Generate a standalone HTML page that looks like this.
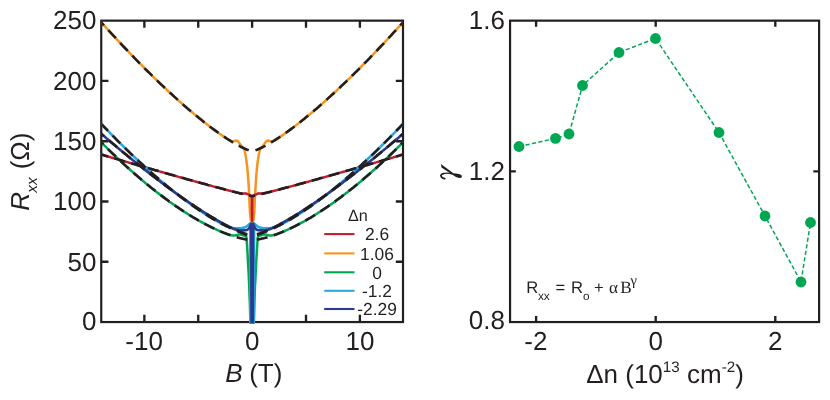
<!DOCTYPE html>
<html><head><meta charset="utf-8"><title>Rxx vs B</title>
<style>
html,body{margin:0;padding:0;background:#ffffff;}
body{width:830px;height:400px;overflow:hidden;font-family:"Liberation Sans",sans-serif;}
</style></head><body>
<svg width="830" height="400" viewBox="0 0 830 400" style="display:block;will-change:transform" text-rendering="geometricPrecision">
<rect x="0" y="0" width="830" height="400" fill="#ffffff"/>
<defs><clipPath id="cl"><rect x="101.25" y="20.65" width="301.75" height="302.90000000000003"/></clipPath></defs>
<rect x="101.25" y="20.65" width="301.75" height="301.40000000000003" fill="none" stroke="#231f20" stroke-width="2.2"/>
<path d="M144.36,20.65v7.2 M144.36,322.05v-7.2" stroke="#231f20" stroke-width="2.35" fill="none"/>
<path d="M198.24,20.65v7.2 M198.24,322.05v-7.2" stroke="#231f20" stroke-width="2.35" fill="none"/>
<path d="M252.12,20.65v7.2 M252.12,322.05v-7.2" stroke="#231f20" stroke-width="2.35" fill="none"/>
<path d="M306.01,20.65v7.2 M306.01,322.05v-7.2" stroke="#231f20" stroke-width="2.35" fill="none"/>
<path d="M359.89,20.65v7.2 M359.89,322.05v-7.2" stroke="#231f20" stroke-width="2.35" fill="none"/>
<path d="M101.25,261.77h7.2 M403.0,261.77h-7.2" stroke="#231f20" stroke-width="2.35" fill="none"/>
<path d="M101.25,201.49h7.2 M403.0,201.49h-7.2" stroke="#231f20" stroke-width="2.35" fill="none"/>
<path d="M101.25,141.21h7.2 M403.0,141.21h-7.2" stroke="#231f20" stroke-width="2.35" fill="none"/>
<path d="M101.25,80.93h7.2 M403.0,80.93h-7.2" stroke="#231f20" stroke-width="2.35" fill="none"/>
<g clip-path="url(#cl)" fill="none" stroke-linejoin="round" stroke-linecap="butt">
<path d="M101.2,22.3 L102.3,23.5 L103.4,24.7 L104.5,25.9 L105.6,27.1 L106.6,28.3 L107.7,29.5 L108.8,30.6 L109.9,31.8 L110.9,33.0 L112.0,34.2 L113.1,35.3 L114.2,36.5 L115.3,37.7 L116.3,38.8 L117.4,40.0 L118.5,41.1 L119.6,42.3 L120.6,43.4 L121.7,44.6 L122.8,45.7 L123.9,46.9 L125.0,48.0 L126.0,49.1 L127.1,50.3 L128.2,51.4 L129.3,52.5 L130.3,53.7 L131.4,54.8 L132.5,55.9 L133.6,57.0 L134.7,58.1 L135.7,59.2 L136.8,60.3 L137.9,61.4 L139.0,62.5 L140.0,63.6 L141.1,64.7 L142.2,65.8 L143.3,66.9 L144.4,68.0 L145.4,69.1 L146.5,70.1 L147.6,71.2 L148.7,72.3 L149.7,73.4 L150.8,74.4 L151.9,75.5 L153.0,76.5 L154.1,77.6 L155.1,78.6 L156.2,79.7 L157.3,80.7 L158.4,81.8 L159.4,82.8 L160.5,83.8 L161.6,84.9 L162.7,85.9 L163.8,86.9 L164.8,87.9 L165.9,88.9 L167.0,90.0 L168.1,91.0 L169.1,92.0 L170.2,93.0 L171.3,94.0 L172.4,94.9 L173.5,95.9 L174.5,96.9 L175.6,97.9 L176.7,98.9 L177.8,99.8 L178.8,100.8 L179.9,101.8 L181.0,102.7 L182.1,103.7 L183.2,104.6 L184.2,105.6 L185.3,106.5 L186.4,107.4 L187.5,108.4 L188.5,109.3 L189.6,110.2 L190.7,111.1 L191.8,112.0 L192.9,113.0 L193.9,113.9 L195.0,114.8 L196.1,115.6 L197.2,116.5 L198.2,117.4 L199.3,118.3 L200.4,119.2 L201.5,120.0 L202.6,120.9 L203.6,121.7 L204.7,122.6 L205.8,123.4 L206.9,124.3 L207.9,125.1 L209.0,125.9 L210.1,126.7 L211.2,127.6 L212.3,128.4 L213.3,129.2 L214.4,130.0 L215.5,130.7 L216.6,131.5 L217.6,132.3 L218.7,133.1 L219.8,133.8 L220.0,134.0 L220.2,134.1 L220.4,134.3 L220.7,134.4 L220.9,134.6 L221.1,134.7 L221.3,134.9 L221.5,135.0 L221.7,135.2 L221.9,135.3 L222.2,135.5 L222.4,135.6 L222.6,135.8 L222.8,135.9 L223.0,136.0 L223.2,136.2 L223.5,136.3 L223.7,136.5 L223.9,136.6 L224.1,136.8 L224.3,136.9 L224.5,137.1 L224.8,137.2 L225.0,137.3 L225.2,137.5 L225.4,137.6 L225.6,137.8 L225.8,137.9 L226.0,138.1 L226.3,138.2 L226.5,138.3 L226.7,138.5 L226.9,138.6 L227.1,138.8 L227.3,138.9 L227.6,139.0 L227.8,139.2 L228.0,139.3 L228.2,139.4 L228.4,139.6 L228.6,139.7 L228.8,139.8 L229.1,140.0 L229.3,140.1 L229.5,140.2 L229.7,140.4 L229.9,140.5 L230.1,140.6 L230.4,140.7 L230.6,140.8 L230.8,140.9 L231.0,141.0 L231.2,141.1 L231.4,141.2 L231.6,141.2 L231.9,141.3 L232.1,141.3 L232.3,141.4 L232.5,141.4 L232.7,141.4 L232.9,141.4 L233.2,141.4 L233.4,141.3 L233.6,141.3 L233.8,141.3 L234.0,141.2 L234.2,141.1 L234.5,141.1 L234.7,141.0 L234.9,140.9 L235.1,140.8 L235.3,140.8 L235.5,140.7 L235.7,140.7 L236.0,140.6 L236.2,140.6 L236.4,140.6 L236.6,140.7 L236.8,140.7 L237.0,140.8 L237.3,140.9 L237.5,141.0 L237.7,141.2 L237.9,141.4 L238.1,141.6 L238.3,141.8 L238.5,142.1 L238.8,142.3 L239.0,142.6 L239.2,142.9 L239.4,143.2 L239.6,143.5 L239.8,143.9 L240.1,144.2 L240.3,144.5 L240.5,144.8 L240.7,145.1 L240.9,145.4 L241.1,145.7 L241.3,145.9 L241.6,146.2 L241.8,146.4 L242.0,146.7 L242.2,146.9 L242.4,147.1 L242.6,147.3 L242.9,147.5 L243.1,147.7 L243.3,147.9 L243.5,148.1 L243.6,148.2 L243.7,148.4 L243.8,148.5 L243.9,148.7 L244.0,148.9 L244.2,149.1 L244.3,149.4 L244.4,149.7 L244.5,150.0 L244.6,150.4 L244.7,150.8 L244.8,151.3 L244.9,151.7 L245.0,152.2 L245.1,152.8 L245.2,153.3 L245.3,153.9 L245.4,154.5 L245.6,155.1 L245.7,155.7 L245.8,156.4 L245.9,157.0 L246.0,157.7 L246.1,158.5 L246.2,159.2 L246.3,160.0 L246.4,160.7 L246.5,161.5 L246.6,162.4 L246.7,163.2 L246.8,164.1 L247.0,165.0 L247.1,166.0 L247.2,166.9 L247.3,167.9 L247.4,168.9 L247.5,170.0 L247.6,171.2 L247.7,172.4 L247.8,173.7 L247.9,175.0 L248.0,176.4 L248.1,177.9 L248.2,179.4 L248.4,181.0 L248.5,182.6 L248.6,184.2 L248.7,185.9 L248.8,187.7 L248.9,189.4 L249.0,191.2 L249.1,193.2 L249.2,195.5 L249.3,198.0 L249.4,200.6 L249.5,203.2 L249.6,205.8 L249.8,208.2 L249.9,210.4 L250.0,212.3 L250.1,213.8 L250.2,215.0 L250.3,216.1 L250.4,217.2 L250.5,218.1 L250.6,218.9 L250.7,219.6 L250.8,220.2 L250.9,220.7 L251.0,221.2 L251.2,221.6 L251.3,221.9 L251.4,222.2 L251.5,222.5 L251.6,222.6 L251.7,222.8 L251.8,223.0 L251.9,223.1 L252.0,223.2 L252.1,223.2 L252.2,223.2 L252.3,223.1 L252.4,223.0 L252.6,222.8 L252.7,222.6 L252.8,222.5 L252.9,222.2 L253.0,221.9 L253.1,221.6 L253.2,221.2 L253.3,220.7 L253.4,220.2 L253.5,219.6 L253.6,218.9 L253.7,218.1 L253.8,217.2 L254.0,216.1 L254.1,215.0 L254.2,213.8 L254.3,212.3 L254.4,210.4 L254.5,208.2 L254.6,205.8 L254.7,203.2 L254.8,200.6 L254.9,198.0 L255.0,195.5 L255.1,193.2 L255.3,191.2 L255.4,189.4 L255.5,187.7 L255.6,185.9 L255.7,184.2 L255.8,182.6 L255.9,181.0 L256.0,179.4 L256.1,177.9 L256.2,176.4 L256.3,175.0 L256.4,173.7 L256.5,172.4 L256.7,171.2 L256.8,170.0 L256.9,168.9 L257.0,167.9 L257.1,166.9 L257.2,166.0 L257.3,165.0 L257.4,164.1 L257.5,163.2 L257.6,162.4 L257.7,161.5 L257.8,160.7 L257.9,160.0 L258.1,159.2 L258.2,158.5 L258.3,157.7 L258.4,157.0 L258.5,156.4 L258.6,155.7 L258.7,155.1 L258.8,154.5 L258.9,153.9 L259.0,153.3 L259.1,152.8 L259.2,152.2 L259.3,151.7 L259.5,151.3 L259.6,150.8 L259.7,150.4 L259.8,150.0 L259.9,149.7 L260.0,149.4 L260.1,149.1 L260.2,148.9 L260.3,148.7 L260.4,148.5 L260.5,148.4 L260.6,148.2 L260.7,148.1 L261.0,147.9 L261.2,147.7 L261.4,147.5 L261.6,147.3 L261.8,147.1 L262.0,146.9 L262.3,146.7 L262.5,146.4 L262.7,146.2 L262.9,145.9 L263.1,145.7 L263.3,145.4 L263.5,145.1 L263.8,144.8 L264.0,144.5 L264.2,144.2 L264.4,143.9 L264.6,143.5 L264.8,143.2 L265.1,142.9 L265.3,142.6 L265.5,142.3 L265.7,142.1 L265.9,141.8 L266.1,141.6 L266.4,141.4 L266.6,141.2 L266.8,141.0 L267.0,140.9 L267.2,140.8 L267.4,140.7 L267.6,140.7 L267.9,140.6 L268.1,140.6 L268.3,140.6 L268.5,140.7 L268.7,140.7 L268.9,140.8 L269.2,140.8 L269.4,140.9 L269.6,141.0 L269.8,141.1 L270.0,141.1 L270.2,141.2 L270.4,141.3 L270.7,141.3 L270.9,141.3 L271.1,141.4 L271.3,141.4 L271.5,141.4 L271.7,141.4 L272.0,141.4 L272.2,141.3 L272.4,141.3 L272.6,141.2 L272.8,141.2 L273.0,141.1 L273.2,141.0 L273.5,140.9 L273.7,140.8 L273.9,140.7 L274.1,140.6 L274.3,140.5 L274.5,140.4 L274.8,140.2 L275.0,140.1 L275.2,140.0 L275.4,139.8 L275.6,139.7 L275.8,139.6 L276.0,139.4 L276.3,139.3 L276.5,139.2 L276.7,139.0 L276.9,138.9 L277.1,138.8 L277.3,138.6 L277.6,138.5 L277.8,138.3 L278.0,138.2 L278.2,138.1 L278.4,137.9 L278.6,137.8 L278.9,137.6 L279.1,137.5 L279.3,137.3 L279.5,137.2 L279.7,137.1 L279.9,136.9 L280.1,136.8 L280.4,136.6 L280.6,136.5 L280.8,136.3 L281.0,136.2 L281.2,136.0 L281.4,135.9 L281.7,135.8 L281.9,135.6 L282.1,135.5 L282.3,135.3 L282.5,135.2 L282.7,135.0 L282.9,134.9 L283.2,134.7 L283.4,134.6 L283.6,134.4 L283.8,134.3 L284.0,134.1 L284.2,134.0 L284.5,133.8 L285.5,133.1 L286.6,132.3 L287.7,131.5 L288.8,130.7 L289.8,130.0 L290.9,129.2 L292.0,128.4 L293.1,127.6 L294.2,126.7 L295.2,125.9 L296.3,125.1 L297.4,124.3 L298.5,123.4 L299.5,122.6 L300.6,121.7 L301.7,120.9 L302.8,120.0 L303.9,119.2 L304.9,118.3 L306.0,117.4 L307.1,116.5 L308.2,115.6 L309.2,114.8 L310.3,113.9 L311.4,113.0 L312.5,112.0 L313.6,111.1 L314.6,110.2 L315.7,109.3 L316.8,108.4 L317.9,107.4 L318.9,106.5 L320.0,105.6 L321.1,104.6 L322.2,103.7 L323.3,102.7 L324.3,101.8 L325.4,100.8 L326.5,99.8 L327.6,98.9 L328.6,97.9 L329.7,96.9 L330.8,95.9 L331.9,94.9 L333.0,94.0 L334.0,93.0 L335.1,92.0 L336.2,91.0 L337.3,90.0 L338.3,88.9 L339.4,87.9 L340.5,86.9 L341.6,85.9 L342.6,84.9 L343.7,83.8 L344.8,82.8 L345.9,81.8 L347.0,80.7 L348.0,79.7 L349.1,78.6 L350.2,77.6 L351.3,76.5 L352.3,75.5 L353.4,74.4 L354.5,73.4 L355.6,72.3 L356.7,71.2 L357.7,70.1 L358.8,69.1 L359.9,68.0 L361.0,66.9 L362.0,65.8 L363.1,64.7 L364.2,63.6 L365.3,62.5 L366.4,61.4 L367.4,60.3 L368.5,59.2 L369.6,58.1 L370.7,57.0 L371.7,55.9 L372.8,54.8 L373.9,53.7 L375.0,52.5 L376.1,51.4 L377.1,50.3 L378.2,49.1 L379.3,48.0 L380.4,46.9 L381.4,45.7 L382.5,44.6 L383.6,43.4 L384.7,42.3 L385.8,41.1 L386.8,40.0 L387.9,38.8 L389.0,37.7 L390.1,36.5 L391.1,35.3 L392.2,34.2 L393.3,33.0 L394.4,31.8 L395.5,30.6 L396.5,29.5 L397.6,28.3 L398.7,27.1 L399.8,25.9 L400.8,24.7 L401.9,23.5 L403.0,22.3" stroke="#f7941d" stroke-width="2.5"/>
<path d="M101.2,154.5 L102.3,154.8 L103.4,155.1 L104.5,155.5 L105.6,155.8 L106.6,156.1 L107.7,156.4 L108.8,156.7 L109.9,157.0 L110.9,157.4 L112.0,157.7 L113.1,158.0 L114.2,158.3 L115.3,158.6 L116.3,158.9 L117.4,159.2 L118.5,159.6 L119.6,159.9 L120.6,160.2 L121.7,160.5 L122.8,160.8 L123.9,161.1 L125.0,161.4 L126.0,161.8 L127.1,162.1 L128.2,162.4 L129.3,162.7 L130.3,163.0 L131.4,163.3 L132.5,163.6 L133.6,163.9 L134.7,164.3 L135.7,164.6 L136.8,164.9 L137.9,165.2 L139.0,165.5 L140.0,165.8 L141.1,166.1 L142.2,166.4 L143.3,166.8 L144.4,167.1 L145.4,167.4 L146.5,167.7 L147.6,168.0 L148.7,168.3 L149.7,168.6 L150.8,168.9 L151.9,169.2 L153.0,169.5 L154.1,169.8 L155.1,170.2 L156.2,170.5 L157.3,170.8 L158.4,171.1 L159.4,171.4 L160.5,171.7 L161.6,172.0 L162.7,172.3 L163.8,172.6 L164.8,172.9 L165.9,173.2 L167.0,173.5 L168.1,173.8 L169.1,174.1 L170.2,174.4 L171.3,174.7 L172.4,175.1 L173.5,175.4 L174.5,175.7 L175.6,176.0 L176.7,176.3 L177.8,176.6 L178.8,176.9 L179.9,177.2 L181.0,177.5 L182.1,177.8 L183.2,178.1 L184.2,178.4 L185.3,178.7 L186.4,179.0 L187.5,179.3 L188.5,179.6 L189.6,179.9 L190.7,180.2 L191.8,180.5 L192.9,180.8 L193.9,181.1 L195.0,181.4 L196.1,181.7 L197.2,182.0 L198.2,182.3 L199.3,182.6 L200.4,182.9 L201.5,183.2 L202.6,183.4 L203.6,183.7 L204.7,184.0 L205.8,184.3 L206.9,184.6 L207.9,184.9 L209.0,185.2 L210.1,185.5 L211.2,185.8 L212.3,186.1 L213.3,186.4 L214.4,186.7 L215.5,187.0 L216.6,187.2 L217.6,187.5 L218.7,187.8 L219.8,188.1 L220.0,188.2 L220.2,188.2 L220.4,188.3 L220.7,188.3 L220.9,188.4 L221.1,188.4 L221.3,188.5 L221.5,188.6 L221.7,188.6 L221.9,188.7 L222.2,188.7 L222.4,188.8 L222.6,188.8 L222.8,188.9 L223.0,189.0 L223.2,189.0 L223.5,189.1 L223.7,189.1 L223.9,189.2 L224.1,189.2 L224.3,189.3 L224.5,189.4 L224.8,189.4 L225.0,189.5 L225.2,189.5 L225.4,189.6 L225.6,189.6 L225.8,189.7 L226.0,189.8 L226.3,189.8 L226.5,189.9 L226.7,189.9 L226.9,190.0 L227.1,190.0 L227.3,190.1 L227.6,190.2 L227.8,190.2 L228.0,190.3 L228.2,190.3 L228.4,190.4 L228.6,190.4 L228.8,190.5 L229.1,190.5 L229.3,190.6 L229.5,190.7 L229.7,190.7 L229.9,190.8 L230.1,190.8 L230.4,190.9 L230.6,190.9 L230.8,191.0 L231.0,191.1 L231.2,191.1 L231.4,191.2 L231.6,191.2 L231.9,191.3 L232.1,191.3 L232.3,191.4 L232.5,191.4 L232.7,191.5 L232.9,191.6 L233.2,191.6 L233.4,191.7 L233.6,191.7 L233.8,191.8 L234.0,191.8 L234.2,191.9 L234.5,191.9 L234.7,192.0 L234.9,192.0 L235.1,192.1 L235.3,192.2 L235.5,192.2 L235.7,192.3 L236.0,192.3 L236.2,192.4 L236.4,192.4 L236.6,192.5 L236.8,192.5 L237.0,192.6 L237.3,192.6 L237.5,192.7 L237.7,192.7 L237.9,192.8 L238.1,192.8 L238.3,192.9 L238.5,192.9 L238.8,193.0 L239.0,193.0 L239.2,193.1 L239.4,193.1 L239.6,193.1 L239.8,193.2 L240.1,193.2 L240.3,193.2 L240.5,193.3 L240.7,193.3 L240.9,193.3 L241.1,193.3 L241.3,193.3 L241.6,193.4 L241.8,193.4 L242.0,193.4 L242.2,193.4 L242.4,193.4 L242.6,193.4 L242.9,193.4 L243.1,193.4 L243.3,193.4 L243.5,193.4 L243.6,193.4 L243.7,193.4 L243.8,193.4 L243.9,193.4 L244.0,193.4 L244.2,193.4 L244.3,193.4 L244.4,193.4 L244.5,193.4 L244.6,193.4 L244.7,193.4 L244.8,193.4 L244.9,193.4 L245.0,193.5 L245.1,193.5 L245.2,193.5 L245.3,193.5 L245.4,193.5 L245.6,193.5 L245.7,193.5 L245.8,193.6 L245.9,193.6 L246.0,193.6 L246.1,193.6 L246.2,193.7 L246.3,193.7 L246.4,193.7 L246.5,193.7 L246.6,193.8 L246.7,193.8 L246.8,193.8 L247.0,193.9 L247.1,193.9 L247.2,193.9 L247.3,194.0 L247.4,194.0 L247.5,194.1 L247.6,194.1 L247.7,194.1 L247.8,194.2 L247.9,194.2 L248.0,194.3 L248.1,194.3 L248.2,194.4 L248.4,194.4 L248.5,194.5 L248.6,194.5 L248.7,194.6 L248.8,194.6 L248.9,194.7 L249.0,194.7 L249.1,194.8 L249.2,194.8 L249.3,194.9 L249.4,194.9 L249.5,195.0 L249.6,195.0 L249.8,195.1 L249.9,195.1 L250.0,195.2 L250.1,195.2 L250.2,195.3 L250.3,195.3 L250.4,195.4 L250.5,195.4 L250.6,195.5 L250.7,195.5 L250.8,195.5 L250.9,195.6 L251.0,195.6 L251.2,195.7 L251.3,195.7 L251.4,195.8 L251.5,195.8 L251.6,195.8 L251.7,195.9 L251.8,199.1 L251.9,206.3 L252.0,213.5 L252.1,220.8 L252.2,213.5 L252.3,206.3 L252.4,199.1 L252.6,195.9 L252.7,195.8 L252.8,195.8 L252.9,195.8 L253.0,195.7 L253.1,195.7 L253.2,195.6 L253.3,195.6 L253.4,195.5 L253.5,195.5 L253.6,195.5 L253.7,195.4 L253.8,195.4 L254.0,195.3 L254.1,195.3 L254.2,195.2 L254.3,195.2 L254.4,195.1 L254.5,195.1 L254.6,195.0 L254.7,195.0 L254.8,194.9 L254.9,194.9 L255.0,194.8 L255.1,194.8 L255.3,194.7 L255.4,194.7 L255.5,194.6 L255.6,194.6 L255.7,194.5 L255.8,194.5 L255.9,194.4 L256.0,194.4 L256.1,194.3 L256.2,194.3 L256.3,194.2 L256.4,194.2 L256.5,194.1 L256.7,194.1 L256.8,194.1 L256.9,194.0 L257.0,194.0 L257.1,193.9 L257.2,193.9 L257.3,193.9 L257.4,193.8 L257.5,193.8 L257.6,193.8 L257.7,193.7 L257.8,193.7 L257.9,193.7 L258.1,193.7 L258.2,193.6 L258.3,193.6 L258.4,193.6 L258.5,193.6 L258.6,193.5 L258.7,193.5 L258.8,193.5 L258.9,193.5 L259.0,193.5 L259.1,193.5 L259.2,193.5 L259.3,193.4 L259.5,193.4 L259.6,193.4 L259.7,193.4 L259.8,193.4 L259.9,193.4 L260.0,193.4 L260.1,193.4 L260.2,193.4 L260.3,193.4 L260.4,193.4 L260.5,193.4 L260.6,193.4 L260.7,193.4 L261.0,193.4 L261.2,193.4 L261.4,193.4 L261.6,193.4 L261.8,193.4 L262.0,193.4 L262.3,193.4 L262.5,193.4 L262.7,193.4 L262.9,193.3 L263.1,193.3 L263.3,193.3 L263.5,193.3 L263.8,193.3 L264.0,193.2 L264.2,193.2 L264.4,193.2 L264.6,193.1 L264.8,193.1 L265.1,193.1 L265.3,193.0 L265.5,193.0 L265.7,192.9 L265.9,192.9 L266.1,192.8 L266.4,192.8 L266.6,192.7 L266.8,192.7 L267.0,192.6 L267.2,192.6 L267.4,192.5 L267.6,192.5 L267.9,192.4 L268.1,192.4 L268.3,192.3 L268.5,192.3 L268.7,192.2 L268.9,192.2 L269.2,192.1 L269.4,192.0 L269.6,192.0 L269.8,191.9 L270.0,191.9 L270.2,191.8 L270.4,191.8 L270.7,191.7 L270.9,191.7 L271.1,191.6 L271.3,191.6 L271.5,191.5 L271.7,191.4 L272.0,191.4 L272.2,191.3 L272.4,191.3 L272.6,191.2 L272.8,191.2 L273.0,191.1 L273.2,191.1 L273.5,191.0 L273.7,190.9 L273.9,190.9 L274.1,190.8 L274.3,190.8 L274.5,190.7 L274.8,190.7 L275.0,190.6 L275.2,190.5 L275.4,190.5 L275.6,190.4 L275.8,190.4 L276.0,190.3 L276.3,190.3 L276.5,190.2 L276.7,190.2 L276.9,190.1 L277.1,190.0 L277.3,190.0 L277.6,189.9 L277.8,189.9 L278.0,189.8 L278.2,189.8 L278.4,189.7 L278.6,189.6 L278.9,189.6 L279.1,189.5 L279.3,189.5 L279.5,189.4 L279.7,189.4 L279.9,189.3 L280.1,189.2 L280.4,189.2 L280.6,189.1 L280.8,189.1 L281.0,189.0 L281.2,189.0 L281.4,188.9 L281.7,188.8 L281.9,188.8 L282.1,188.7 L282.3,188.7 L282.5,188.6 L282.7,188.6 L282.9,188.5 L283.2,188.4 L283.4,188.4 L283.6,188.3 L283.8,188.3 L284.0,188.2 L284.2,188.2 L284.5,188.1 L285.5,187.8 L286.6,187.5 L287.7,187.2 L288.8,187.0 L289.8,186.7 L290.9,186.4 L292.0,186.1 L293.1,185.8 L294.2,185.5 L295.2,185.2 L296.3,184.9 L297.4,184.6 L298.5,184.3 L299.5,184.0 L300.6,183.7 L301.7,183.4 L302.8,183.2 L303.9,182.9 L304.9,182.6 L306.0,182.3 L307.1,182.0 L308.2,181.7 L309.2,181.4 L310.3,181.1 L311.4,180.8 L312.5,180.5 L313.6,180.2 L314.6,179.9 L315.7,179.6 L316.8,179.3 L317.9,179.0 L318.9,178.7 L320.0,178.4 L321.1,178.1 L322.2,177.8 L323.3,177.5 L324.3,177.2 L325.4,176.9 L326.5,176.6 L327.6,176.3 L328.6,176.0 L329.7,175.7 L330.8,175.4 L331.9,175.1 L333.0,174.7 L334.0,174.4 L335.1,174.1 L336.2,173.8 L337.3,173.5 L338.3,173.2 L339.4,172.9 L340.5,172.6 L341.6,172.3 L342.6,172.0 L343.7,171.7 L344.8,171.4 L345.9,171.1 L347.0,170.8 L348.0,170.5 L349.1,170.2 L350.2,169.8 L351.3,169.5 L352.3,169.2 L353.4,168.9 L354.5,168.6 L355.6,168.3 L356.7,168.0 L357.7,167.7 L358.8,167.4 L359.9,167.1 L361.0,166.8 L362.0,166.4 L363.1,166.1 L364.2,165.8 L365.3,165.5 L366.4,165.2 L367.4,164.9 L368.5,164.6 L369.6,164.3 L370.7,163.9 L371.7,163.6 L372.8,163.3 L373.9,163.0 L375.0,162.7 L376.1,162.4 L377.1,162.1 L378.2,161.8 L379.3,161.4 L380.4,161.1 L381.4,160.8 L382.5,160.5 L383.6,160.2 L384.7,159.9 L385.8,159.6 L386.8,159.2 L387.9,158.9 L389.0,158.6 L390.1,158.3 L391.1,158.0 L392.2,157.7 L393.3,157.4 L394.4,157.0 L395.5,156.7 L396.5,156.4 L397.6,156.1 L398.7,155.8 L399.8,155.5 L400.8,155.1 L401.9,154.8 L403.0,154.5" stroke="#be1e2d" stroke-width="2.5"/>
<path d="M101.2,142.4 L102.3,143.4 L103.4,144.5 L104.5,145.6 L105.6,146.6 L106.6,147.7 L107.7,148.8 L108.8,149.8 L109.9,150.9 L110.9,151.9 L112.0,153.0 L113.1,154.0 L114.2,155.0 L115.3,156.1 L116.3,157.1 L117.4,158.1 L118.5,159.1 L119.6,160.1 L120.6,161.1 L121.7,162.1 L122.8,163.1 L123.9,164.1 L125.0,165.1 L126.0,166.1 L127.1,167.1 L128.2,168.0 L129.3,169.0 L130.3,170.0 L131.4,170.9 L132.5,171.9 L133.6,172.8 L134.7,173.8 L135.7,174.7 L136.8,175.7 L137.9,176.6 L139.0,177.5 L140.0,178.4 L141.1,179.3 L142.2,180.3 L143.3,181.2 L144.4,182.1 L145.4,183.0 L146.5,183.9 L147.6,184.7 L148.7,185.6 L149.7,186.5 L150.8,187.4 L151.9,188.2 L153.0,189.1 L154.1,190.0 L155.1,190.8 L156.2,191.7 L157.3,192.5 L158.4,193.3 L159.4,194.2 L160.5,195.0 L161.6,195.8 L162.7,196.6 L163.8,197.4 L164.8,198.2 L165.9,199.0 L167.0,199.8 L168.1,200.6 L169.1,201.4 L170.2,202.2 L171.3,202.9 L172.4,203.7 L173.5,204.5 L174.5,205.2 L175.6,206.0 L176.7,206.7 L177.8,207.4 L178.8,208.2 L179.9,208.9 L181.0,209.6 L182.1,210.3 L183.2,211.0 L184.2,211.7 L185.3,212.4 L186.4,213.1 L187.5,213.8 L188.5,214.5 L189.6,215.1 L190.7,215.8 L191.8,216.5 L192.9,217.1 L193.9,217.8 L195.0,218.4 L196.1,219.0 L197.2,219.6 L198.2,220.3 L199.3,220.9 L200.4,221.5 L201.5,222.1 L202.6,222.7 L203.6,223.2 L204.7,223.8 L205.8,224.4 L206.9,225.0 L207.9,225.5 L209.0,226.1 L210.1,226.6 L211.2,227.1 L212.3,227.6 L213.3,228.2 L214.4,228.7 L215.5,229.2 L216.6,229.7 L217.6,230.1 L218.7,230.6 L219.8,231.1 L220.0,231.2 L220.2,231.3 L220.4,231.4 L220.7,231.5 L220.9,231.5 L221.1,231.6 L221.3,231.7 L221.5,231.8 L221.7,231.9 L221.9,232.0 L222.2,232.1 L222.4,232.2 L222.6,232.3 L222.8,232.3 L223.0,232.4 L223.2,232.5 L223.5,232.6 L223.7,232.7 L223.9,232.8 L224.1,232.9 L224.3,232.9 L224.5,233.0 L224.8,233.1 L225.0,233.2 L225.2,233.3 L225.4,233.3 L225.6,233.4 L225.8,233.5 L226.0,233.6 L226.3,233.7 L226.5,233.7 L226.7,233.8 L226.9,233.9 L227.1,234.0 L227.3,234.0 L227.6,234.1 L227.8,234.2 L228.0,234.3 L228.2,234.3 L228.4,234.4 L228.6,234.5 L228.8,234.5 L229.1,234.6 L229.3,234.7 L229.5,234.7 L229.7,234.8 L229.9,234.8 L230.1,234.9 L230.4,235.0 L230.6,235.0 L230.8,235.1 L231.0,235.1 L231.2,235.2 L231.4,235.2 L231.6,235.3 L231.9,235.3 L232.1,235.3 L232.3,235.4 L232.5,235.4 L232.7,235.4 L232.9,235.5 L233.2,235.5 L233.4,235.5 L233.6,235.5 L233.8,235.5 L234.0,235.5 L234.2,235.5 L234.5,235.5 L234.7,235.5 L234.9,235.4 L235.1,235.4 L235.3,235.4 L235.5,235.3 L235.7,235.3 L236.0,235.2 L236.2,235.2 L236.4,235.1 L236.6,235.1 L236.8,235.0 L237.0,234.9 L237.3,234.9 L237.5,234.8 L237.7,234.8 L237.9,234.7 L238.1,234.7 L238.3,234.6 L238.5,234.6 L238.8,234.6 L239.0,234.5 L239.2,234.5 L239.4,234.5 L239.6,234.5 L239.8,234.5 L240.1,234.5 L240.3,234.5 L240.5,234.5 L240.7,234.6 L240.9,234.6 L241.1,234.7 L241.3,234.7 L241.6,234.8 L241.8,234.8 L242.0,234.9 L242.2,234.9 L242.4,235.0 L242.6,235.1 L242.9,235.2 L243.1,235.2 L243.3,235.3 L243.5,235.4 L243.6,235.4 L243.7,235.4 L243.8,235.5 L243.9,235.5 L244.0,235.6 L244.2,235.6 L244.3,235.6 L244.4,235.7 L244.5,235.7 L244.6,235.7 L244.7,235.7 L244.8,235.8 L244.9,235.8 L245.0,235.8 L245.1,235.9 L245.2,235.9 L245.3,235.9 L245.4,235.9 L245.6,236.0 L245.7,236.0 L245.8,236.0 L245.9,236.0 L246.0,236.1 L246.1,236.1 L246.2,236.3 L246.3,236.6 L246.4,237.3 L246.5,238.4 L246.6,239.7 L246.7,241.1 L246.8,242.6 L247.0,244.1 L247.1,245.6 L247.2,247.3 L247.3,249.0 L247.4,250.8 L247.5,252.7 L247.6,254.6 L247.7,256.5 L247.8,258.5 L247.9,260.5 L248.0,262.5 L248.1,264.5 L248.2,266.6 L248.4,268.6 L248.5,270.7 L248.6,272.7 L248.7,274.8 L248.8,276.9 L248.9,279.1 L249.0,281.3 L249.1,283.7 L249.2,286.1 L249.3,288.7 L249.4,291.4 L249.5,294.4 L249.6,297.6 L249.8,301.0 L249.9,304.5 L250.0,308.1 L250.1,311.7 L250.2,315.3 L250.3,318.8 L250.4,322.1 L250.5,325.2 L250.6,326.9 L250.7,326.9 L250.8,326.9 L250.9,326.9 L251.0,326.9 L251.2,326.9 L251.3,326.9 L251.4,326.9 L251.5,326.9 L251.6,326.9 L251.7,326.9 L251.8,326.9 L251.9,326.9 L252.0,326.9 L252.1,326.9 L252.2,326.9 L252.3,326.9 L252.4,326.9 L252.6,326.9 L252.7,326.9 L252.8,326.9 L252.9,326.9 L253.0,326.9 L253.1,326.9 L253.2,326.9 L253.3,326.9 L253.4,326.9 L253.5,326.9 L253.6,326.9 L253.7,325.2 L253.8,322.1 L254.0,318.8 L254.1,315.3 L254.2,311.7 L254.3,308.1 L254.4,304.5 L254.5,301.0 L254.6,297.6 L254.7,294.4 L254.8,291.4 L254.9,288.7 L255.0,286.1 L255.1,283.7 L255.3,281.3 L255.4,279.1 L255.5,276.9 L255.6,274.8 L255.7,272.7 L255.8,270.7 L255.9,268.6 L256.0,266.6 L256.1,264.5 L256.2,262.5 L256.3,260.5 L256.4,258.5 L256.5,256.5 L256.7,254.6 L256.8,252.7 L256.9,250.8 L257.0,249.0 L257.1,247.3 L257.2,245.6 L257.3,244.1 L257.4,242.6 L257.5,241.1 L257.6,239.7 L257.7,238.4 L257.8,237.3 L257.9,236.6 L258.1,236.3 L258.2,236.1 L258.3,236.1 L258.4,236.0 L258.5,236.0 L258.6,236.0 L258.7,236.0 L258.8,235.9 L258.9,235.9 L259.0,235.9 L259.1,235.9 L259.2,235.8 L259.3,235.8 L259.5,235.8 L259.6,235.7 L259.7,235.7 L259.8,235.7 L259.9,235.7 L260.0,235.6 L260.1,235.6 L260.2,235.6 L260.3,235.5 L260.4,235.5 L260.5,235.4 L260.6,235.4 L260.7,235.4 L261.0,235.3 L261.2,235.2 L261.4,235.2 L261.6,235.1 L261.8,235.0 L262.0,234.9 L262.3,234.9 L262.5,234.8 L262.7,234.8 L262.9,234.7 L263.1,234.7 L263.3,234.6 L263.5,234.6 L263.8,234.5 L264.0,234.5 L264.2,234.5 L264.4,234.5 L264.6,234.5 L264.8,234.5 L265.1,234.5 L265.3,234.5 L265.5,234.6 L265.7,234.6 L265.9,234.6 L266.1,234.7 L266.4,234.7 L266.6,234.8 L266.8,234.8 L267.0,234.9 L267.2,234.9 L267.4,235.0 L267.6,235.1 L267.9,235.1 L268.1,235.2 L268.3,235.2 L268.5,235.3 L268.7,235.3 L268.9,235.4 L269.2,235.4 L269.4,235.4 L269.6,235.5 L269.8,235.5 L270.0,235.5 L270.2,235.5 L270.4,235.5 L270.7,235.5 L270.9,235.5 L271.1,235.5 L271.3,235.5 L271.5,235.4 L271.7,235.4 L272.0,235.4 L272.2,235.3 L272.4,235.3 L272.6,235.3 L272.8,235.2 L273.0,235.2 L273.2,235.1 L273.5,235.1 L273.7,235.0 L273.9,235.0 L274.1,234.9 L274.3,234.8 L274.5,234.8 L274.8,234.7 L275.0,234.7 L275.2,234.6 L275.4,234.5 L275.6,234.5 L275.8,234.4 L276.0,234.3 L276.3,234.3 L276.5,234.2 L276.7,234.1 L276.9,234.0 L277.1,234.0 L277.3,233.9 L277.6,233.8 L277.8,233.7 L278.0,233.7 L278.2,233.6 L278.4,233.5 L278.6,233.4 L278.9,233.3 L279.1,233.3 L279.3,233.2 L279.5,233.1 L279.7,233.0 L279.9,232.9 L280.1,232.9 L280.4,232.8 L280.6,232.7 L280.8,232.6 L281.0,232.5 L281.2,232.4 L281.4,232.3 L281.7,232.3 L281.9,232.2 L282.1,232.1 L282.3,232.0 L282.5,231.9 L282.7,231.8 L282.9,231.7 L283.2,231.6 L283.4,231.5 L283.6,231.5 L283.8,231.4 L284.0,231.3 L284.2,231.2 L284.5,231.1 L285.5,230.6 L286.6,230.1 L287.7,229.7 L288.8,229.2 L289.8,228.7 L290.9,228.2 L292.0,227.6 L293.1,227.1 L294.2,226.6 L295.2,226.1 L296.3,225.5 L297.4,225.0 L298.5,224.4 L299.5,223.8 L300.6,223.2 L301.7,222.7 L302.8,222.1 L303.9,221.5 L304.9,220.9 L306.0,220.3 L307.1,219.6 L308.2,219.0 L309.2,218.4 L310.3,217.8 L311.4,217.1 L312.5,216.5 L313.6,215.8 L314.6,215.1 L315.7,214.5 L316.8,213.8 L317.9,213.1 L318.9,212.4 L320.0,211.7 L321.1,211.0 L322.2,210.3 L323.3,209.6 L324.3,208.9 L325.4,208.2 L326.5,207.4 L327.6,206.7 L328.6,206.0 L329.7,205.2 L330.8,204.5 L331.9,203.7 L333.0,202.9 L334.0,202.2 L335.1,201.4 L336.2,200.6 L337.3,199.8 L338.3,199.0 L339.4,198.2 L340.5,197.4 L341.6,196.6 L342.6,195.8 L343.7,195.0 L344.8,194.2 L345.9,193.3 L347.0,192.5 L348.0,191.7 L349.1,190.8 L350.2,190.0 L351.3,189.1 L352.3,188.2 L353.4,187.4 L354.5,186.5 L355.6,185.6 L356.7,184.7 L357.7,183.9 L358.8,183.0 L359.9,182.1 L361.0,181.2 L362.0,180.3 L363.1,179.3 L364.2,178.4 L365.3,177.5 L366.4,176.6 L367.4,175.7 L368.5,174.7 L369.6,173.8 L370.7,172.8 L371.7,171.9 L372.8,170.9 L373.9,170.0 L375.0,169.0 L376.1,168.0 L377.1,167.1 L378.2,166.1 L379.3,165.1 L380.4,164.1 L381.4,163.1 L382.5,162.1 L383.6,161.1 L384.7,160.1 L385.8,159.1 L386.8,158.1 L387.9,157.1 L389.0,156.1 L390.1,155.0 L391.1,154.0 L392.2,153.0 L393.3,151.9 L394.4,150.9 L395.5,149.8 L396.5,148.8 L397.6,147.7 L398.7,146.6 L399.8,145.6 L400.8,144.5 L401.9,143.4 L403.0,142.4" stroke="#00a651" stroke-width="2.5"/>
<path d="M101.2,123.9 L102.3,125.0 L103.4,126.1 L104.5,127.3 L105.6,128.4 L106.6,129.5 L107.7,130.6 L108.8,131.7 L109.9,132.8 L110.9,133.9 L112.0,135.0 L113.1,136.1 L114.2,137.2 L115.3,138.3 L116.3,139.4 L117.4,140.5 L118.5,141.6 L119.6,142.6 L120.6,143.7 L121.7,144.8 L122.8,145.8 L123.9,146.9 L125.0,148.0 L126.0,149.0 L127.1,150.1 L128.2,151.1 L129.3,152.2 L130.3,153.2 L131.4,154.2 L132.5,155.3 L133.6,156.3 L134.7,157.3 L135.7,158.3 L136.8,159.3 L137.9,160.3 L139.0,161.3 L140.0,162.3 L141.1,163.3 L142.2,164.3 L143.3,165.3 L144.4,166.3 L145.4,167.3 L146.5,168.3 L147.6,169.2 L148.7,170.2 L149.7,171.2 L150.8,172.1 L151.9,173.1 L153.0,174.0 L154.1,175.0 L155.1,175.9 L156.2,176.9 L157.3,177.8 L158.4,178.7 L159.4,179.6 L160.5,180.6 L161.6,181.5 L162.7,182.4 L163.8,183.3 L164.8,184.2 L165.9,185.1 L167.0,186.0 L168.1,186.9 L169.1,187.7 L170.2,188.6 L171.3,189.5 L172.4,190.3 L173.5,191.2 L174.5,192.1 L175.6,192.9 L176.7,193.8 L177.8,194.6 L178.8,195.4 L179.9,196.3 L181.0,197.1 L182.1,197.9 L183.2,198.7 L184.2,199.5 L185.3,200.3 L186.4,201.1 L187.5,201.9 L188.5,202.7 L189.6,203.5 L190.7,204.3 L191.8,205.0 L192.9,205.8 L193.9,206.5 L195.0,207.3 L196.1,208.0 L197.2,208.8 L198.2,209.5 L199.3,210.2 L200.4,211.0 L201.5,211.7 L202.6,212.4 L203.6,213.1 L204.7,213.8 L205.8,214.5 L206.9,215.1 L207.9,215.8 L209.0,216.5 L210.1,217.1 L211.2,217.8 L212.3,218.4 L213.3,219.1 L214.4,219.7 L215.5,220.3 L216.6,220.9 L217.6,221.5 L218.7,222.1 L219.8,222.7 L220.0,222.8 L220.2,223.0 L220.4,223.1 L220.7,223.2 L220.9,223.3 L221.1,223.4 L221.3,223.5 L221.5,223.6 L221.7,223.8 L221.9,223.9 L222.2,224.0 L222.4,224.1 L222.6,224.2 L222.8,224.3 L223.0,224.4 L223.2,224.5 L223.5,224.6 L223.7,224.8 L223.9,224.9 L224.1,225.0 L224.3,225.1 L224.5,225.2 L224.8,225.3 L225.0,225.4 L225.2,225.5 L225.4,225.6 L225.6,225.7 L225.8,225.8 L226.0,225.9 L226.3,226.0 L226.5,226.1 L226.7,226.2 L226.9,226.3 L227.1,226.4 L227.3,226.5 L227.6,226.6 L227.8,226.6 L228.0,226.7 L228.2,226.8 L228.4,226.9 L228.6,227.0 L228.8,227.0 L229.1,227.1 L229.3,227.2 L229.5,227.3 L229.7,227.3 L229.9,227.4 L230.1,227.5 L230.4,227.5 L230.6,227.6 L230.8,227.6 L231.0,227.7 L231.2,227.7 L231.4,227.8 L231.6,227.8 L231.9,227.9 L232.1,227.9 L232.3,227.9 L232.5,228.0 L232.7,228.0 L232.9,228.0 L233.2,228.1 L233.4,228.1 L233.6,228.1 L233.8,228.1 L234.0,228.1 L234.2,228.2 L234.5,228.2 L234.7,228.2 L234.9,228.2 L235.1,228.2 L235.3,228.2 L235.5,228.2 L235.7,228.2 L236.0,228.3 L236.2,228.3 L236.4,228.3 L236.6,228.3 L236.8,228.3 L237.0,228.3 L237.3,228.3 L237.5,228.3 L237.7,228.3 L237.9,228.3 L238.1,228.3 L238.3,228.3 L238.5,228.3 L238.8,228.3 L239.0,228.3 L239.2,228.3 L239.4,228.3 L239.6,228.2 L239.8,228.2 L240.1,228.2 L240.3,228.2 L240.5,228.2 L240.7,228.2 L240.9,228.2 L241.1,228.1 L241.3,228.1 L241.6,228.1 L241.8,228.1 L242.0,228.0 L242.2,228.0 L242.4,228.0 L242.6,227.9 L242.9,227.9 L243.1,227.9 L243.3,227.8 L243.5,227.8 L243.6,227.7 L243.7,227.7 L243.8,227.7 L243.9,227.6 L244.0,227.6 L244.2,227.6 L244.3,227.5 L244.4,227.5 L244.5,227.5 L244.6,227.4 L244.7,227.4 L244.8,227.3 L244.9,227.3 L245.0,227.3 L245.1,227.2 L245.2,227.2 L245.3,227.1 L245.4,227.1 L245.6,227.0 L245.7,227.0 L245.8,226.9 L245.9,226.8 L246.0,226.8 L246.1,226.7 L246.2,226.7 L246.3,226.6 L246.4,226.5 L246.5,226.5 L246.6,226.4 L246.7,226.3 L246.8,226.2 L247.0,226.2 L247.1,226.1 L247.2,226.0 L247.3,225.9 L247.4,225.9 L247.5,225.8 L247.6,225.7 L247.7,225.6 L247.8,225.5 L247.9,225.4 L248.0,225.3 L248.1,225.2 L248.2,225.1 L248.4,225.0 L248.5,224.9 L248.6,224.8 L248.7,224.7 L248.8,224.6 L248.9,224.5 L249.0,224.4 L249.1,224.3 L249.2,224.2 L249.3,224.1 L249.4,224.0 L249.5,223.9 L249.6,223.8 L249.8,223.7 L249.9,223.6 L250.0,223.4 L250.1,223.3 L250.2,231.6 L250.3,267.8 L250.4,304.0 L250.5,326.9 L250.6,326.9 L250.7,326.9 L250.8,326.9 L250.9,326.9 L251.0,326.9 L251.2,326.9 L251.3,326.9 L251.4,326.9 L251.5,326.9 L251.6,326.9 L251.7,326.9 L251.8,326.9 L251.9,326.9 L252.0,326.9 L252.1,326.9 L252.2,326.9 L252.3,326.9 L252.4,326.9 L252.6,326.9 L252.7,326.9 L252.8,326.9 L252.9,326.9 L253.0,326.9 L253.1,326.9 L253.2,326.9 L253.3,326.9 L253.4,326.9 L253.5,326.9 L253.6,326.9 L253.7,326.9 L253.8,304.0 L254.0,267.8 L254.1,231.6 L254.2,223.3 L254.3,223.4 L254.4,223.6 L254.5,223.7 L254.6,223.8 L254.7,223.9 L254.8,224.0 L254.9,224.1 L255.0,224.2 L255.1,224.3 L255.3,224.4 L255.4,224.5 L255.5,224.6 L255.6,224.7 L255.7,224.8 L255.8,224.9 L255.9,225.0 L256.0,225.1 L256.1,225.2 L256.2,225.3 L256.3,225.4 L256.4,225.5 L256.5,225.6 L256.7,225.7 L256.8,225.8 L256.9,225.9 L257.0,225.9 L257.1,226.0 L257.2,226.1 L257.3,226.2 L257.4,226.2 L257.5,226.3 L257.6,226.4 L257.7,226.5 L257.8,226.5 L257.9,226.6 L258.1,226.7 L258.2,226.7 L258.3,226.8 L258.4,226.8 L258.5,226.9 L258.6,227.0 L258.7,227.0 L258.8,227.1 L258.9,227.1 L259.0,227.2 L259.1,227.2 L259.2,227.3 L259.3,227.3 L259.5,227.3 L259.6,227.4 L259.7,227.4 L259.8,227.5 L259.9,227.5 L260.0,227.5 L260.1,227.6 L260.2,227.6 L260.3,227.6 L260.4,227.7 L260.5,227.7 L260.6,227.7 L260.7,227.8 L261.0,227.8 L261.2,227.9 L261.4,227.9 L261.6,227.9 L261.8,228.0 L262.0,228.0 L262.3,228.0 L262.5,228.1 L262.7,228.1 L262.9,228.1 L263.1,228.1 L263.3,228.2 L263.5,228.2 L263.8,228.2 L264.0,228.2 L264.2,228.2 L264.4,228.2 L264.6,228.2 L264.8,228.3 L265.1,228.3 L265.3,228.3 L265.5,228.3 L265.7,228.3 L265.9,228.3 L266.1,228.3 L266.4,228.3 L266.6,228.3 L266.8,228.3 L267.0,228.3 L267.2,228.3 L267.4,228.3 L267.6,228.3 L267.9,228.3 L268.1,228.3 L268.3,228.3 L268.5,228.2 L268.7,228.2 L268.9,228.2 L269.2,228.2 L269.4,228.2 L269.6,228.2 L269.8,228.2 L270.0,228.2 L270.2,228.1 L270.4,228.1 L270.7,228.1 L270.9,228.1 L271.1,228.1 L271.3,228.0 L271.5,228.0 L271.7,228.0 L272.0,227.9 L272.2,227.9 L272.4,227.9 L272.6,227.8 L272.8,227.8 L273.0,227.7 L273.2,227.7 L273.5,227.6 L273.7,227.6 L273.9,227.5 L274.1,227.5 L274.3,227.4 L274.5,227.3 L274.8,227.3 L275.0,227.2 L275.2,227.1 L275.4,227.0 L275.6,227.0 L275.8,226.9 L276.0,226.8 L276.3,226.7 L276.5,226.6 L276.7,226.6 L276.9,226.5 L277.1,226.4 L277.3,226.3 L277.6,226.2 L277.8,226.1 L278.0,226.0 L278.2,225.9 L278.4,225.8 L278.6,225.7 L278.9,225.6 L279.1,225.5 L279.3,225.4 L279.5,225.3 L279.7,225.2 L279.9,225.1 L280.1,225.0 L280.4,224.9 L280.6,224.8 L280.8,224.6 L281.0,224.5 L281.2,224.4 L281.4,224.3 L281.7,224.2 L281.9,224.1 L282.1,224.0 L282.3,223.9 L282.5,223.8 L282.7,223.6 L282.9,223.5 L283.2,223.4 L283.4,223.3 L283.6,223.2 L283.8,223.1 L284.0,223.0 L284.2,222.8 L284.5,222.7 L285.5,222.1 L286.6,221.5 L287.7,220.9 L288.8,220.3 L289.8,219.7 L290.9,219.1 L292.0,218.4 L293.1,217.8 L294.2,217.1 L295.2,216.5 L296.3,215.8 L297.4,215.1 L298.5,214.5 L299.5,213.8 L300.6,213.1 L301.7,212.4 L302.8,211.7 L303.9,211.0 L304.9,210.2 L306.0,209.5 L307.1,208.8 L308.2,208.0 L309.2,207.3 L310.3,206.5 L311.4,205.8 L312.5,205.0 L313.6,204.3 L314.6,203.5 L315.7,202.7 L316.8,201.9 L317.9,201.1 L318.9,200.3 L320.0,199.5 L321.1,198.7 L322.2,197.9 L323.3,197.1 L324.3,196.3 L325.4,195.4 L326.5,194.6 L327.6,193.8 L328.6,192.9 L329.7,192.1 L330.8,191.2 L331.9,190.3 L333.0,189.5 L334.0,188.6 L335.1,187.7 L336.2,186.9 L337.3,186.0 L338.3,185.1 L339.4,184.2 L340.5,183.3 L341.6,182.4 L342.6,181.5 L343.7,180.6 L344.8,179.6 L345.9,178.7 L347.0,177.8 L348.0,176.9 L349.1,175.9 L350.2,175.0 L351.3,174.0 L352.3,173.1 L353.4,172.1 L354.5,171.2 L355.6,170.2 L356.7,169.2 L357.7,168.3 L358.8,167.3 L359.9,166.3 L361.0,165.3 L362.0,164.3 L363.1,163.3 L364.2,162.3 L365.3,161.3 L366.4,160.3 L367.4,159.3 L368.5,158.3 L369.6,157.3 L370.7,156.3 L371.7,155.3 L372.8,154.2 L373.9,153.2 L375.0,152.2 L376.1,151.1 L377.1,150.1 L378.2,149.0 L379.3,148.0 L380.4,146.9 L381.4,145.8 L382.5,144.8 L383.6,143.7 L384.7,142.6 L385.8,141.6 L386.8,140.5 L387.9,139.4 L389.0,138.3 L390.1,137.2 L391.1,136.1 L392.2,135.0 L393.3,133.9 L394.4,132.8 L395.5,131.7 L396.5,130.6 L397.6,129.5 L398.7,128.4 L399.8,127.3 L400.8,126.1 L401.9,125.0 L403.0,123.9" stroke="#27aae1" stroke-width="2.6"/>
<path d="M101.2,133.7 L102.3,134.7 L103.4,135.6 L104.5,136.5 L105.6,137.5 L106.6,138.4 L107.7,139.3 L108.8,140.2 L109.9,141.1 L110.9,142.0 L112.0,143.0 L113.1,143.9 L114.2,144.8 L115.3,145.7 L116.3,146.6 L117.4,147.5 L118.5,148.4 L119.6,149.3 L120.6,150.2 L121.7,151.1 L122.8,152.0 L123.9,152.9 L125.0,153.7 L126.0,154.6 L127.1,155.5 L128.2,156.4 L129.3,157.3 L130.3,158.2 L131.4,159.0 L132.5,159.9 L133.6,160.8 L134.7,161.6 L135.7,162.5 L136.8,163.4 L137.9,164.2 L139.0,165.1 L140.0,166.0 L141.1,166.8 L142.2,167.7 L143.3,168.5 L144.4,169.4 L145.4,170.2 L146.5,171.1 L147.6,171.9 L148.7,172.8 L149.7,173.6 L150.8,174.4 L151.9,175.3 L153.0,176.1 L154.1,176.9 L155.1,177.7 L156.2,178.6 L157.3,179.4 L158.4,180.2 L159.4,181.0 L160.5,181.8 L161.6,182.7 L162.7,183.5 L163.8,184.3 L164.8,185.1 L165.9,185.9 L167.0,186.7 L168.1,187.5 L169.1,188.3 L170.2,189.0 L171.3,189.8 L172.4,190.6 L173.5,191.4 L174.5,192.2 L175.6,193.0 L176.7,193.7 L177.8,194.5 L178.8,195.3 L179.9,196.0 L181.0,196.8 L182.1,197.5 L183.2,198.3 L184.2,199.0 L185.3,199.8 L186.4,200.5 L187.5,201.3 L188.5,202.0 L189.6,202.8 L190.7,203.5 L191.8,204.2 L192.9,204.9 L193.9,205.7 L195.0,206.4 L196.1,207.1 L197.2,207.8 L198.2,208.5 L199.3,209.2 L200.4,209.9 L201.5,210.6 L202.6,211.3 L203.6,212.0 L204.7,212.7 L205.8,213.3 L206.9,214.0 L207.9,214.7 L209.0,215.3 L210.1,216.0 L211.2,216.7 L212.3,217.3 L213.3,218.0 L214.4,218.6 L215.5,219.2 L216.6,219.9 L217.6,220.5 L218.7,221.1 L219.8,221.7 L220.0,221.8 L220.2,222.0 L220.4,222.1 L220.7,222.2 L220.9,222.3 L221.1,222.5 L221.3,222.6 L221.5,222.7 L221.7,222.8 L221.9,222.9 L222.2,223.1 L222.4,223.2 L222.6,223.3 L222.8,223.4 L223.0,223.5 L223.2,223.7 L223.5,223.8 L223.7,223.9 L223.9,224.0 L224.1,224.1 L224.3,224.2 L224.5,224.4 L224.8,224.5 L225.0,224.6 L225.2,224.7 L225.4,224.8 L225.6,224.9 L225.8,225.1 L226.0,225.2 L226.3,225.3 L226.5,225.4 L226.7,225.5 L226.9,225.6 L227.1,225.8 L227.3,225.9 L227.6,226.0 L227.8,226.1 L228.0,226.2 L228.2,226.3 L228.4,226.4 L228.6,226.5 L228.8,226.6 L229.1,226.8 L229.3,226.9 L229.5,227.0 L229.7,227.1 L229.9,227.2 L230.1,227.3 L230.4,227.4 L230.6,227.5 L230.8,227.6 L231.0,227.7 L231.2,227.8 L231.4,227.9 L231.6,228.0 L231.9,228.1 L232.1,228.2 L232.3,228.3 L232.5,228.4 L232.7,228.5 L232.9,228.6 L233.2,228.7 L233.4,228.8 L233.6,228.9 L233.8,228.9 L234.0,229.0 L234.2,229.1 L234.5,229.2 L234.7,229.2 L234.9,229.3 L235.1,229.4 L235.3,229.5 L235.5,229.5 L235.7,229.6 L236.0,229.6 L236.2,229.7 L236.4,229.7 L236.6,229.8 L236.8,229.8 L237.0,229.9 L237.3,229.9 L237.5,230.0 L237.7,230.0 L237.9,230.0 L238.1,230.1 L238.3,230.1 L238.5,230.1 L238.8,230.1 L239.0,230.2 L239.2,230.2 L239.4,230.2 L239.6,230.2 L239.8,230.2 L240.1,230.3 L240.3,230.3 L240.5,230.3 L240.7,230.3 L240.9,230.3 L241.1,230.3 L241.3,230.3 L241.6,230.3 L241.8,230.3 L242.0,230.3 L242.2,230.4 L242.4,230.4 L242.6,230.4 L242.9,230.4 L243.1,230.4 L243.3,230.4 L243.5,230.4 L243.6,230.4 L243.7,230.4 L243.8,230.4 L243.9,230.4 L244.0,230.4 L244.2,230.4 L244.3,230.4 L244.4,230.4 L244.5,230.3 L244.6,230.3 L244.7,230.3 L244.8,230.3 L244.9,230.3 L245.0,230.3 L245.1,230.3 L245.2,230.3 L245.3,230.3 L245.4,230.3 L245.6,230.3 L245.7,230.2 L245.8,230.2 L245.9,230.2 L246.0,230.2 L246.1,230.2 L246.2,230.2 L246.3,230.1 L246.4,230.1 L246.5,230.1 L246.6,230.0 L246.7,230.0 L246.8,230.0 L247.0,229.9 L247.1,229.9 L247.2,229.8 L247.3,229.8 L247.4,229.7 L247.5,229.7 L247.6,229.6 L247.7,229.5 L247.8,229.4 L247.9,229.4 L248.0,229.3 L248.1,229.2 L248.2,229.1 L248.4,229.0 L248.5,228.9 L248.6,228.7 L248.7,228.6 L248.8,228.5 L248.9,228.3 L249.0,228.2 L249.1,228.0 L249.2,227.9 L249.3,227.7 L249.4,227.5 L249.5,227.3 L249.6,227.1 L249.8,226.9 L249.9,226.7 L250.0,226.5 L250.1,226.3 L250.2,226.0 L250.3,225.8 L250.4,225.5 L250.5,225.3 L250.6,225.0 L250.7,224.8 L250.8,224.5 L250.9,224.2 L251.0,224.0 L251.2,223.7 L251.3,231.6 L251.4,267.8 L251.5,304.0 L251.6,326.9 L251.7,326.9 L251.8,326.9 L251.9,326.9 L252.0,326.9 L252.1,326.9 L252.2,326.9 L252.3,326.9 L252.4,326.9 L252.6,326.9 L252.7,326.9 L252.8,304.0 L252.9,267.8 L253.0,231.6 L253.1,223.7 L253.2,224.0 L253.3,224.2 L253.4,224.5 L253.5,224.8 L253.6,225.0 L253.7,225.3 L253.8,225.5 L254.0,225.8 L254.1,226.0 L254.2,226.3 L254.3,226.5 L254.4,226.7 L254.5,226.9 L254.6,227.1 L254.7,227.3 L254.8,227.5 L254.9,227.7 L255.0,227.9 L255.1,228.0 L255.3,228.2 L255.4,228.3 L255.5,228.5 L255.6,228.6 L255.7,228.7 L255.8,228.9 L255.9,229.0 L256.0,229.1 L256.1,229.2 L256.2,229.3 L256.3,229.4 L256.4,229.4 L256.5,229.5 L256.7,229.6 L256.8,229.7 L256.9,229.7 L257.0,229.8 L257.1,229.8 L257.2,229.9 L257.3,229.9 L257.4,230.0 L257.5,230.0 L257.6,230.0 L257.7,230.1 L257.8,230.1 L257.9,230.1 L258.1,230.2 L258.2,230.2 L258.3,230.2 L258.4,230.2 L258.5,230.2 L258.6,230.2 L258.7,230.3 L258.8,230.3 L258.9,230.3 L259.0,230.3 L259.1,230.3 L259.2,230.3 L259.3,230.3 L259.5,230.3 L259.6,230.3 L259.7,230.3 L259.8,230.3 L259.9,230.4 L260.0,230.4 L260.1,230.4 L260.2,230.4 L260.3,230.4 L260.4,230.4 L260.5,230.4 L260.6,230.4 L260.7,230.4 L261.0,230.4 L261.2,230.4 L261.4,230.4 L261.6,230.4 L261.8,230.4 L262.0,230.4 L262.3,230.3 L262.5,230.3 L262.7,230.3 L262.9,230.3 L263.1,230.3 L263.3,230.3 L263.5,230.3 L263.8,230.3 L264.0,230.3 L264.2,230.3 L264.4,230.2 L264.6,230.2 L264.8,230.2 L265.1,230.2 L265.3,230.2 L265.5,230.1 L265.7,230.1 L265.9,230.1 L266.1,230.1 L266.4,230.0 L266.6,230.0 L266.8,230.0 L267.0,229.9 L267.2,229.9 L267.4,229.8 L267.6,229.8 L267.9,229.7 L268.1,229.7 L268.3,229.6 L268.5,229.6 L268.7,229.5 L268.9,229.5 L269.2,229.4 L269.4,229.3 L269.6,229.2 L269.8,229.2 L270.0,229.1 L270.2,229.0 L270.4,228.9 L270.7,228.9 L270.9,228.8 L271.1,228.7 L271.3,228.6 L271.5,228.5 L271.7,228.4 L272.0,228.3 L272.2,228.2 L272.4,228.1 L272.6,228.0 L272.8,227.9 L273.0,227.8 L273.2,227.7 L273.5,227.6 L273.7,227.5 L273.9,227.4 L274.1,227.3 L274.3,227.2 L274.5,227.1 L274.8,227.0 L275.0,226.9 L275.2,226.8 L275.4,226.6 L275.6,226.5 L275.8,226.4 L276.0,226.3 L276.3,226.2 L276.5,226.1 L276.7,226.0 L276.9,225.9 L277.1,225.8 L277.3,225.6 L277.6,225.5 L277.8,225.4 L278.0,225.3 L278.2,225.2 L278.4,225.1 L278.6,224.9 L278.9,224.8 L279.1,224.7 L279.3,224.6 L279.5,224.5 L279.7,224.4 L279.9,224.2 L280.1,224.1 L280.4,224.0 L280.6,223.9 L280.8,223.8 L281.0,223.7 L281.2,223.5 L281.4,223.4 L281.7,223.3 L281.9,223.2 L282.1,223.1 L282.3,222.9 L282.5,222.8 L282.7,222.7 L282.9,222.6 L283.2,222.5 L283.4,222.3 L283.6,222.2 L283.8,222.1 L284.0,222.0 L284.2,221.8 L284.5,221.7 L285.5,221.1 L286.6,220.5 L287.7,219.9 L288.8,219.2 L289.8,218.6 L290.9,218.0 L292.0,217.3 L293.1,216.7 L294.2,216.0 L295.2,215.3 L296.3,214.7 L297.4,214.0 L298.5,213.3 L299.5,212.7 L300.6,212.0 L301.7,211.3 L302.8,210.6 L303.9,209.9 L304.9,209.2 L306.0,208.5 L307.1,207.8 L308.2,207.1 L309.2,206.4 L310.3,205.7 L311.4,204.9 L312.5,204.2 L313.6,203.5 L314.6,202.8 L315.7,202.0 L316.8,201.3 L317.9,200.5 L318.9,199.8 L320.0,199.0 L321.1,198.3 L322.2,197.5 L323.3,196.8 L324.3,196.0 L325.4,195.3 L326.5,194.5 L327.6,193.7 L328.6,193.0 L329.7,192.2 L330.8,191.4 L331.9,190.6 L333.0,189.8 L334.0,189.0 L335.1,188.3 L336.2,187.5 L337.3,186.7 L338.3,185.9 L339.4,185.1 L340.5,184.3 L341.6,183.5 L342.6,182.7 L343.7,181.8 L344.8,181.0 L345.9,180.2 L347.0,179.4 L348.0,178.6 L349.1,177.7 L350.2,176.9 L351.3,176.1 L352.3,175.3 L353.4,174.4 L354.5,173.6 L355.6,172.8 L356.7,171.9 L357.7,171.1 L358.8,170.2 L359.9,169.4 L361.0,168.5 L362.0,167.7 L363.1,166.8 L364.2,166.0 L365.3,165.1 L366.4,164.2 L367.4,163.4 L368.5,162.5 L369.6,161.6 L370.7,160.8 L371.7,159.9 L372.8,159.0 L373.9,158.2 L375.0,157.3 L376.1,156.4 L377.1,155.5 L378.2,154.6 L379.3,153.7 L380.4,152.9 L381.4,152.0 L382.5,151.1 L383.6,150.2 L384.7,149.3 L385.8,148.4 L386.8,147.5 L387.9,146.6 L389.0,145.7 L390.1,144.8 L391.1,143.9 L392.2,143.0 L393.3,142.0 L394.4,141.1 L395.5,140.2 L396.5,139.3 L397.6,138.4 L398.7,137.5 L399.8,136.5 L400.8,135.6 L401.9,134.7 L403.0,133.7" stroke="#2b3990" stroke-width="2.6"/>
<path d="M252.1,151.2 L251.6,151.1 L251.0,151.0 L250.5,150.9 L249.9,150.7 L249.4,150.5 L248.8,150.3 L248.3,150.1 L247.7,149.9 L247.2,149.7 L246.6,149.5 L246.1,149.3 L245.5,149.0 L245.0,148.8 L244.5,148.5 L243.9,148.3 L243.4,148.0 L242.8,147.8 L242.3,147.5 L241.7,147.2 L241.2,147.0 L240.6,146.7 L240.1,146.4 L239.5,146.1 L239.0,145.8 L238.4,145.5 L237.9,145.2 L237.3,144.9 L236.8,144.6 L236.2,144.3 L235.7,144.0 L235.1,143.7 L234.6,143.4 L234.0,143.0 L233.5,142.7 L232.9,142.4 L232.4,142.1 L231.9,141.7 L231.3,141.4 L230.8,141.1 L230.2,140.7 L229.7,140.4 L229.1,140.0 L228.6,139.7 L228.0,139.3 L227.5,139.0 L226.9,138.6 L226.4,138.3 L225.8,137.9 L225.3,137.5 L224.7,137.2 L224.2,136.8 L223.6,136.5 L223.1,136.1 L222.5,135.7 L222.0,135.3 L221.4,135.0 L220.9,134.6 L220.3,134.2 L219.8,133.8 L217.6,132.3 L215.7,130.9 L213.7,129.4 L211.7,128.0 L209.7,126.5 L207.8,125.0 L205.8,123.4 L203.8,121.9 L201.9,120.3 L199.9,118.7 L197.9,117.1 L195.9,115.5 L194.0,113.9 L192.0,112.2 L190.0,110.6 L188.0,108.9 L186.1,107.2 L184.1,105.5 L182.1,103.7 L180.2,102.0 L178.2,100.2 L176.2,98.4 L174.2,96.6 L172.3,94.8 L170.3,93.0 L168.3,91.2 L166.3,89.4 L164.4,87.5 L162.4,85.6 L160.4,83.8 L158.5,81.9 L156.5,80.0 L154.5,78.0 L152.5,76.1 L150.6,74.2 L148.6,72.2 L146.6,70.3 L144.6,68.3 L142.7,66.3 L140.7,64.3 L138.7,62.3 L136.8,60.3 L134.8,58.3 L132.8,56.2 L130.8,54.2 L128.9,52.1 L126.9,50.0 L124.9,48.0 L122.9,45.9 L121.0,43.8 L119.0,41.7 L117.0,39.6 L115.1,37.4 L113.1,35.3 L111.1,33.2 L109.1,31.0 L107.2,28.9 L105.2,26.7 L103.2,24.5 L101.2,22.3" stroke="#231f20" stroke-width="2.6" stroke-dasharray="11 6.5" stroke-dashoffset="14.0"/>
<path d="M252.1,151.2 L252.7,151.1 L253.2,151.0 L253.8,150.9 L254.3,150.7 L254.9,150.5 L255.4,150.3 L256.0,150.1 L256.5,149.9 L257.1,149.7 L257.6,149.5 L258.2,149.3 L258.7,149.0 L259.2,148.8 L259.8,148.5 L260.3,148.3 L260.9,148.0 L261.4,147.8 L262.0,147.5 L262.5,147.2 L263.1,147.0 L263.6,146.7 L264.2,146.4 L264.7,146.1 L265.3,145.8 L265.8,145.5 L266.4,145.2 L266.9,144.9 L267.5,144.6 L268.0,144.3 L268.6,144.0 L269.1,143.7 L269.7,143.4 L270.2,143.0 L270.8,142.7 L271.3,142.4 L271.9,142.1 L272.4,141.7 L272.9,141.4 L273.5,141.1 L274.0,140.7 L274.6,140.4 L275.1,140.0 L275.7,139.7 L276.2,139.3 L276.8,139.0 L277.3,138.6 L277.9,138.3 L278.4,137.9 L279.0,137.5 L279.5,137.2 L280.1,136.8 L280.6,136.5 L281.2,136.1 L281.7,135.7 L282.3,135.3 L282.8,135.0 L283.4,134.6 L283.9,134.2 L284.5,133.8 L286.6,132.3 L288.6,130.9 L290.6,129.4 L292.5,128.0 L294.5,126.5 L296.5,125.0 L298.4,123.4 L300.4,121.9 L302.4,120.3 L304.4,118.7 L306.3,117.1 L308.3,115.5 L310.3,113.9 L312.3,112.2 L314.2,110.6 L316.2,108.9 L318.2,107.2 L320.1,105.5 L322.1,103.7 L324.1,102.0 L326.1,100.2 L328.0,98.4 L330.0,96.6 L332.0,94.8 L334.0,93.0 L335.9,91.2 L337.9,89.4 L339.9,87.5 L341.8,85.6 L343.8,83.8 L345.8,81.9 L347.8,80.0 L349.7,78.0 L351.7,76.1 L353.7,74.2 L355.7,72.2 L357.6,70.3 L359.6,68.3 L361.6,66.3 L363.5,64.3 L365.5,62.3 L367.5,60.3 L369.5,58.3 L371.4,56.2 L373.4,54.2 L375.4,52.1 L377.4,50.0 L379.3,48.0 L381.3,45.9 L383.3,43.8 L385.2,41.7 L387.2,39.6 L389.2,37.4 L391.2,35.3 L393.1,33.2 L395.1,31.0 L397.1,28.9 L399.1,26.7 L401.0,24.5 L403.0,22.3" stroke="#231f20" stroke-width="2.6" stroke-dasharray="11 6.5" stroke-dashoffset="14.0"/>
<path d="M252.1,196.2 L251.6,196.1 L251.0,196.0 L250.5,195.8 L249.9,195.7 L249.4,195.6 L248.8,195.5 L248.3,195.4 L247.7,195.2 L247.2,195.1 L246.6,195.0 L246.1,194.8 L245.5,194.7 L245.0,194.6 L244.5,194.4 L243.9,194.3 L243.4,194.2 L242.8,194.0 L242.3,193.9 L241.7,193.8 L241.2,193.6 L240.6,193.5 L240.1,193.4 L239.5,193.2 L239.0,193.1 L238.4,192.9 L237.9,192.8 L237.3,192.7 L236.8,192.5 L236.2,192.4 L235.7,192.3 L235.1,192.1 L234.6,192.0 L234.0,191.8 L233.5,191.7 L232.9,191.6 L232.4,191.4 L231.9,191.3 L231.3,191.1 L230.8,191.0 L230.2,190.8 L229.7,190.7 L229.1,190.6 L228.6,190.4 L228.0,190.3 L227.5,190.1 L226.9,190.0 L226.4,189.8 L225.8,189.7 L225.3,189.6 L224.7,189.4 L224.2,189.3 L223.6,189.1 L223.1,189.0 L222.5,188.8 L222.0,188.7 L221.4,188.5 L220.9,188.4 L220.3,188.3 L219.8,188.1 L217.6,187.5 L215.7,187.0 L213.7,186.5 L211.7,185.9 L209.7,185.4 L207.8,184.9 L205.8,184.3 L203.8,183.8 L201.9,183.3 L199.9,182.7 L197.9,182.2 L195.9,181.6 L194.0,181.1 L192.0,180.5 L190.0,180.0 L188.0,179.4 L186.1,178.9 L184.1,178.3 L182.1,177.8 L180.2,177.2 L178.2,176.7 L176.2,176.1 L174.2,175.6 L172.3,175.0 L170.3,174.5 L168.3,173.9 L166.3,173.3 L164.4,172.8 L162.4,172.2 L160.4,171.7 L158.5,171.1 L156.5,170.5 L154.5,170.0 L152.5,169.4 L150.6,168.8 L148.6,168.3 L146.6,167.7 L144.6,167.1 L142.7,166.6 L140.7,166.0 L138.7,165.4 L136.8,164.9 L134.8,164.3 L132.8,163.7 L130.8,163.2 L128.9,162.6 L126.9,162.0 L124.9,161.4 L122.9,160.9 L121.0,160.3 L119.0,159.7 L117.0,159.1 L115.1,158.6 L113.1,158.0 L111.1,157.4 L109.1,156.8 L107.2,156.2 L105.2,155.7 L103.2,155.1 L101.2,154.5" stroke="#231f20" stroke-width="2.6" stroke-dasharray="11 6.5" stroke-dashoffset="8.0"/>
<path d="M252.1,196.2 L252.7,196.1 L253.2,196.0 L253.8,195.8 L254.3,195.7 L254.9,195.6 L255.4,195.5 L256.0,195.4 L256.5,195.2 L257.1,195.1 L257.6,195.0 L258.2,194.8 L258.7,194.7 L259.2,194.6 L259.8,194.4 L260.3,194.3 L260.9,194.2 L261.4,194.0 L262.0,193.9 L262.5,193.8 L263.1,193.6 L263.6,193.5 L264.2,193.4 L264.7,193.2 L265.3,193.1 L265.8,192.9 L266.4,192.8 L266.9,192.7 L267.5,192.5 L268.0,192.4 L268.6,192.3 L269.1,192.1 L269.7,192.0 L270.2,191.8 L270.8,191.7 L271.3,191.6 L271.9,191.4 L272.4,191.3 L272.9,191.1 L273.5,191.0 L274.0,190.8 L274.6,190.7 L275.1,190.6 L275.7,190.4 L276.2,190.3 L276.8,190.1 L277.3,190.0 L277.9,189.8 L278.4,189.7 L279.0,189.6 L279.5,189.4 L280.1,189.3 L280.6,189.1 L281.2,189.0 L281.7,188.8 L282.3,188.7 L282.8,188.5 L283.4,188.4 L283.9,188.3 L284.5,188.1 L286.6,187.5 L288.6,187.0 L290.6,186.5 L292.5,185.9 L294.5,185.4 L296.5,184.9 L298.4,184.3 L300.4,183.8 L302.4,183.3 L304.4,182.7 L306.3,182.2 L308.3,181.6 L310.3,181.1 L312.3,180.5 L314.2,180.0 L316.2,179.4 L318.2,178.9 L320.1,178.3 L322.1,177.8 L324.1,177.2 L326.1,176.7 L328.0,176.1 L330.0,175.6 L332.0,175.0 L334.0,174.5 L335.9,173.9 L337.9,173.3 L339.9,172.8 L341.8,172.2 L343.8,171.7 L345.8,171.1 L347.8,170.5 L349.7,170.0 L351.7,169.4 L353.7,168.8 L355.7,168.3 L357.6,167.7 L359.6,167.1 L361.6,166.6 L363.5,166.0 L365.5,165.4 L367.5,164.9 L369.5,164.3 L371.4,163.7 L373.4,163.2 L375.4,162.6 L377.4,162.0 L379.3,161.4 L381.3,160.9 L383.3,160.3 L385.2,159.7 L387.2,159.1 L389.2,158.6 L391.2,158.0 L393.1,157.4 L395.1,156.8 L397.1,156.2 L399.1,155.7 L401.0,155.1 L403.0,154.5" stroke="#231f20" stroke-width="2.6" stroke-dasharray="11 6.5" stroke-dashoffset="8.0"/>
<path d="M252.1,240.1 L251.6,240.1 L251.0,240.0 L250.5,240.0 L249.9,239.9 L249.4,239.9 L248.8,239.8 L248.3,239.7 L247.7,239.7 L247.2,239.6 L246.6,239.5 L246.1,239.4 L245.5,239.3 L245.0,239.2 L244.5,239.1 L243.9,239.0 L243.4,238.9 L242.8,238.8 L242.3,238.6 L241.7,238.5 L241.2,238.4 L240.6,238.3 L240.1,238.1 L239.5,238.0 L239.0,237.8 L238.4,237.7 L237.9,237.5 L237.3,237.4 L236.8,237.2 L236.2,237.1 L235.7,236.9 L235.1,236.8 L234.6,236.6 L234.0,236.4 L233.5,236.2 L232.9,236.1 L232.4,235.9 L231.9,235.7 L231.3,235.5 L230.8,235.3 L230.2,235.2 L229.7,235.0 L229.1,234.8 L228.6,234.6 L228.0,234.4 L227.5,234.2 L226.9,234.0 L226.4,233.8 L225.8,233.6 L225.3,233.3 L224.7,233.1 L224.2,232.9 L223.6,232.7 L223.1,232.5 L222.5,232.2 L222.0,232.0 L221.4,231.8 L220.9,231.6 L220.3,231.3 L219.8,231.1 L217.6,230.2 L215.7,229.3 L213.7,228.3 L211.7,227.4 L209.7,226.4 L207.8,225.4 L205.8,224.4 L203.8,223.4 L201.9,222.3 L199.9,221.2 L197.9,220.1 L195.9,218.9 L194.0,217.8 L192.0,216.6 L190.0,215.4 L188.0,214.2 L186.1,212.9 L184.1,211.6 L182.1,210.4 L180.2,209.0 L178.2,207.7 L176.2,206.4 L174.2,205.0 L172.3,203.6 L170.3,202.2 L168.3,200.8 L166.3,199.3 L164.4,197.9 L162.4,196.4 L160.4,194.9 L158.5,193.4 L156.5,191.9 L154.5,190.3 L152.5,188.7 L150.6,187.2 L148.6,185.6 L146.6,183.9 L144.6,182.3 L142.7,180.7 L140.7,179.0 L138.7,177.3 L136.8,175.6 L134.8,173.9 L132.8,172.2 L130.8,170.4 L128.9,168.6 L126.9,166.9 L124.9,165.1 L122.9,163.3 L121.0,161.4 L119.0,159.6 L117.0,157.7 L115.1,155.9 L113.1,154.0 L111.1,152.1 L109.1,150.2 L107.2,148.2 L105.2,146.3 L103.2,144.3 L101.2,142.4" stroke="#231f20" stroke-width="2.6" stroke-dasharray="11 6.5" stroke-dashoffset="12.7"/>
<path d="M252.1,240.1 L252.7,240.1 L253.2,240.0 L253.8,240.0 L254.3,239.9 L254.9,239.9 L255.4,239.8 L256.0,239.7 L256.5,239.7 L257.1,239.6 L257.6,239.5 L258.2,239.4 L258.7,239.3 L259.2,239.2 L259.8,239.1 L260.3,239.0 L260.9,238.9 L261.4,238.8 L262.0,238.6 L262.5,238.5 L263.1,238.4 L263.6,238.3 L264.2,238.1 L264.7,238.0 L265.3,237.8 L265.8,237.7 L266.4,237.5 L266.9,237.4 L267.5,237.2 L268.0,237.1 L268.6,236.9 L269.1,236.8 L269.7,236.6 L270.2,236.4 L270.8,236.2 L271.3,236.1 L271.9,235.9 L272.4,235.7 L272.9,235.5 L273.5,235.3 L274.0,235.2 L274.6,235.0 L275.1,234.8 L275.7,234.6 L276.2,234.4 L276.8,234.2 L277.3,234.0 L277.9,233.8 L278.4,233.6 L279.0,233.3 L279.5,233.1 L280.1,232.9 L280.6,232.7 L281.2,232.5 L281.7,232.2 L282.3,232.0 L282.8,231.8 L283.4,231.6 L283.9,231.3 L284.5,231.1 L286.6,230.2 L288.6,229.3 L290.6,228.3 L292.5,227.4 L294.5,226.4 L296.5,225.4 L298.4,224.4 L300.4,223.4 L302.4,222.3 L304.4,221.2 L306.3,220.1 L308.3,218.9 L310.3,217.8 L312.3,216.6 L314.2,215.4 L316.2,214.2 L318.2,212.9 L320.1,211.6 L322.1,210.4 L324.1,209.0 L326.1,207.7 L328.0,206.4 L330.0,205.0 L332.0,203.6 L334.0,202.2 L335.9,200.8 L337.9,199.3 L339.9,197.9 L341.8,196.4 L343.8,194.9 L345.8,193.4 L347.8,191.9 L349.7,190.3 L351.7,188.7 L353.7,187.2 L355.7,185.6 L357.6,183.9 L359.6,182.3 L361.6,180.7 L363.5,179.0 L365.5,177.3 L367.5,175.6 L369.5,173.9 L371.4,172.2 L373.4,170.4 L375.4,168.6 L377.4,166.9 L379.3,165.1 L381.3,163.3 L383.3,161.4 L385.2,159.6 L387.2,157.7 L389.2,155.9 L391.2,154.0 L393.1,152.1 L395.1,150.2 L397.1,148.2 L399.1,146.3 L401.0,144.3 L403.0,142.4" stroke="#231f20" stroke-width="2.6" stroke-dasharray="11 6.5" stroke-dashoffset="12.7"/>
<path d="M252.1,235.0 L251.6,235.0 L251.0,234.9 L250.5,234.8 L249.9,234.7 L249.4,234.6 L248.8,234.5 L248.3,234.4 L247.7,234.3 L247.2,234.2 L246.6,234.0 L246.1,233.9 L245.5,233.7 L245.0,233.6 L244.5,233.4 L243.9,233.3 L243.4,233.1 L242.8,232.9 L242.3,232.8 L241.7,232.6 L241.2,232.4 L240.6,232.2 L240.1,232.0 L239.5,231.8 L239.0,231.6 L238.4,231.4 L237.9,231.2 L237.3,231.0 L236.8,230.8 L236.2,230.6 L235.7,230.3 L235.1,230.1 L234.6,229.9 L234.0,229.7 L233.5,229.4 L232.9,229.2 L232.4,228.9 L231.9,228.7 L231.3,228.5 L230.8,228.2 L230.2,228.0 L229.7,227.7 L229.1,227.5 L228.6,227.2 L228.0,226.9 L227.5,226.7 L226.9,226.4 L226.4,226.1 L225.8,225.9 L225.3,225.6 L224.7,225.3 L224.2,225.0 L223.6,224.8 L223.1,224.5 L222.5,224.2 L222.0,223.9 L221.4,223.6 L220.9,223.3 L220.3,223.0 L219.8,222.7 L217.6,221.5 L215.7,220.4 L213.7,219.3 L211.7,218.1 L209.7,216.9 L207.8,215.7 L205.8,214.5 L203.8,213.2 L201.9,211.9 L199.9,210.6 L197.9,209.3 L195.9,207.9 L194.0,206.6 L192.0,205.2 L190.0,203.8 L188.0,202.3 L186.1,200.9 L184.1,199.4 L182.1,197.9 L180.2,196.4 L178.2,194.9 L176.2,193.4 L174.2,191.8 L172.3,190.3 L170.3,188.7 L168.3,187.1 L166.3,185.4 L164.4,183.8 L162.4,182.1 L160.4,180.5 L158.5,178.8 L156.5,177.1 L154.5,175.4 L152.5,173.6 L150.6,171.9 L148.6,170.1 L146.6,168.4 L144.6,166.6 L142.7,164.8 L140.7,163.0 L138.7,161.1 L136.8,159.3 L134.8,157.4 L132.8,155.6 L130.8,153.7 L128.9,151.8 L126.9,149.9 L124.9,147.9 L122.9,146.0 L121.0,144.0 L119.0,142.1 L117.0,140.1 L115.1,138.1 L113.1,136.1 L111.1,134.1 L109.1,132.1 L107.2,130.0 L105.2,128.0 L103.2,125.9 L101.2,123.9" stroke="#231f20" stroke-width="2.6" stroke-dasharray="11 6.5" stroke-dashoffset="12.5"/>
<path d="M252.1,235.0 L252.7,235.0 L253.2,234.9 L253.8,234.8 L254.3,234.7 L254.9,234.6 L255.4,234.5 L256.0,234.4 L256.5,234.3 L257.1,234.2 L257.6,234.0 L258.2,233.9 L258.7,233.7 L259.2,233.6 L259.8,233.4 L260.3,233.3 L260.9,233.1 L261.4,232.9 L262.0,232.8 L262.5,232.6 L263.1,232.4 L263.6,232.2 L264.2,232.0 L264.7,231.8 L265.3,231.6 L265.8,231.4 L266.4,231.2 L266.9,231.0 L267.5,230.8 L268.0,230.6 L268.6,230.3 L269.1,230.1 L269.7,229.9 L270.2,229.7 L270.8,229.4 L271.3,229.2 L271.9,228.9 L272.4,228.7 L272.9,228.5 L273.5,228.2 L274.0,228.0 L274.6,227.7 L275.1,227.5 L275.7,227.2 L276.2,226.9 L276.8,226.7 L277.3,226.4 L277.9,226.1 L278.4,225.9 L279.0,225.6 L279.5,225.3 L280.1,225.0 L280.6,224.8 L281.2,224.5 L281.7,224.2 L282.3,223.9 L282.8,223.6 L283.4,223.3 L283.9,223.0 L284.5,222.7 L286.6,221.5 L288.6,220.4 L290.6,219.3 L292.5,218.1 L294.5,216.9 L296.5,215.7 L298.4,214.5 L300.4,213.2 L302.4,211.9 L304.4,210.6 L306.3,209.3 L308.3,207.9 L310.3,206.6 L312.3,205.2 L314.2,203.8 L316.2,202.3 L318.2,200.9 L320.1,199.4 L322.1,197.9 L324.1,196.4 L326.1,194.9 L328.0,193.4 L330.0,191.8 L332.0,190.3 L334.0,188.7 L335.9,187.1 L337.9,185.4 L339.9,183.8 L341.8,182.1 L343.8,180.5 L345.8,178.8 L347.8,177.1 L349.7,175.4 L351.7,173.6 L353.7,171.9 L355.7,170.1 L357.6,168.4 L359.6,166.6 L361.6,164.8 L363.5,163.0 L365.5,161.1 L367.5,159.3 L369.5,157.4 L371.4,155.6 L373.4,153.7 L375.4,151.8 L377.4,149.9 L379.3,147.9 L381.3,146.0 L383.3,144.0 L385.2,142.1 L387.2,140.1 L389.2,138.1 L391.2,136.1 L393.1,134.1 L395.1,132.1 L397.1,130.0 L399.1,128.0 L401.0,125.9 L403.0,123.9" stroke="#231f20" stroke-width="2.6" stroke-dasharray="11 6.5" stroke-dashoffset="12.5"/>
<path d="M252.1,236.2 L251.6,236.1 L251.0,236.0 L250.5,235.9 L249.9,235.7 L249.4,235.6 L248.8,235.4 L248.3,235.2 L247.7,235.1 L247.2,234.9 L246.6,234.7 L246.1,234.5 L245.5,234.3 L245.0,234.1 L244.5,233.9 L243.9,233.7 L243.4,233.4 L242.8,233.2 L242.3,233.0 L241.7,232.8 L241.2,232.5 L240.6,232.3 L240.1,232.1 L239.5,231.8 L239.0,231.6 L238.4,231.3 L237.9,231.1 L237.3,230.8 L236.8,230.6 L236.2,230.3 L235.7,230.1 L235.1,229.8 L234.6,229.6 L234.0,229.3 L233.5,229.0 L232.9,228.7 L232.4,228.5 L231.9,228.2 L231.3,227.9 L230.8,227.6 L230.2,227.4 L229.7,227.1 L229.1,226.8 L228.6,226.5 L228.0,226.2 L227.5,225.9 L226.9,225.7 L226.4,225.4 L225.8,225.1 L225.3,224.8 L224.7,224.5 L224.2,224.2 L223.6,223.9 L223.1,223.6 L222.5,223.3 L222.0,223.0 L221.4,222.7 L220.9,222.3 L220.3,222.0 L219.8,221.7 L217.6,220.5 L215.7,219.3 L213.7,218.2 L211.7,217.0 L209.7,215.8 L207.8,214.6 L205.8,213.3 L203.8,212.1 L201.9,210.8 L199.9,209.6 L197.9,208.3 L195.9,207.0 L194.0,205.7 L192.0,204.4 L190.0,203.0 L188.0,201.7 L186.1,200.3 L184.1,199.0 L182.1,197.6 L180.2,196.2 L178.2,194.8 L176.2,193.4 L174.2,192.0 L172.3,190.5 L170.3,189.1 L168.3,187.7 L166.3,186.2 L164.4,184.7 L162.4,183.3 L160.4,181.8 L158.5,180.3 L156.5,178.8 L154.5,177.3 L152.5,175.8 L150.6,174.2 L148.6,172.7 L146.6,171.2 L144.6,169.6 L142.7,168.1 L140.7,166.5 L138.7,164.9 L136.8,163.3 L134.8,161.8 L132.8,160.2 L130.8,158.6 L128.9,157.0 L126.9,155.3 L124.9,153.7 L122.9,152.1 L121.0,150.5 L119.0,148.8 L117.0,147.2 L115.1,145.5 L113.1,143.8 L111.1,142.2 L109.1,140.5 L107.2,138.8 L105.2,137.1 L103.2,135.4 L101.2,133.7" stroke="#231f20" stroke-width="2.6" stroke-dasharray="11 6.5" stroke-dashoffset="12.5"/>
<path d="M252.1,236.2 L252.7,236.1 L253.2,236.0 L253.8,235.9 L254.3,235.7 L254.9,235.6 L255.4,235.4 L256.0,235.2 L256.5,235.1 L257.1,234.9 L257.6,234.7 L258.2,234.5 L258.7,234.3 L259.2,234.1 L259.8,233.9 L260.3,233.7 L260.9,233.4 L261.4,233.2 L262.0,233.0 L262.5,232.8 L263.1,232.5 L263.6,232.3 L264.2,232.1 L264.7,231.8 L265.3,231.6 L265.8,231.3 L266.4,231.1 L266.9,230.8 L267.5,230.6 L268.0,230.3 L268.6,230.1 L269.1,229.8 L269.7,229.6 L270.2,229.3 L270.8,229.0 L271.3,228.7 L271.9,228.5 L272.4,228.2 L272.9,227.9 L273.5,227.6 L274.0,227.4 L274.6,227.1 L275.1,226.8 L275.7,226.5 L276.2,226.2 L276.8,225.9 L277.3,225.7 L277.9,225.4 L278.4,225.1 L279.0,224.8 L279.5,224.5 L280.1,224.2 L280.6,223.9 L281.2,223.6 L281.7,223.3 L282.3,223.0 L282.8,222.7 L283.4,222.3 L283.9,222.0 L284.5,221.7 L286.6,220.5 L288.6,219.3 L290.6,218.2 L292.5,217.0 L294.5,215.8 L296.5,214.6 L298.4,213.3 L300.4,212.1 L302.4,210.8 L304.4,209.6 L306.3,208.3 L308.3,207.0 L310.3,205.7 L312.3,204.4 L314.2,203.0 L316.2,201.7 L318.2,200.3 L320.1,199.0 L322.1,197.6 L324.1,196.2 L326.1,194.8 L328.0,193.4 L330.0,192.0 L332.0,190.5 L334.0,189.1 L335.9,187.7 L337.9,186.2 L339.9,184.7 L341.8,183.3 L343.8,181.8 L345.8,180.3 L347.8,178.8 L349.7,177.3 L351.7,175.8 L353.7,174.2 L355.7,172.7 L357.6,171.2 L359.6,169.6 L361.6,168.1 L363.5,166.5 L365.5,164.9 L367.5,163.3 L369.5,161.8 L371.4,160.2 L373.4,158.6 L375.4,157.0 L377.4,155.3 L379.3,153.7 L381.3,152.1 L383.3,150.5 L385.2,148.8 L387.2,147.2 L389.2,145.5 L391.2,143.8 L393.1,142.2 L395.1,140.5 L397.1,138.8 L399.1,137.1 L401.0,135.4 L403.0,133.7" stroke="#231f20" stroke-width="2.6" stroke-dasharray="11 6.5" stroke-dashoffset="12.5"/>
</g>
<rect x="510.05" y="20.65" width="309.05" height="301.40000000000003" fill="none" stroke="#231f20" stroke-width="2.2"/>
<path d="M536.10,20.65v6.0 M536.10,322.05v-6.0" stroke="#231f20" stroke-width="2.35" fill="none"/>
<path d="M655.70,20.65v6.0 M655.70,322.05v-6.0" stroke="#231f20" stroke-width="2.35" fill="none"/>
<path d="M775.30,20.65v6.0 M775.30,322.05v-6.0" stroke="#231f20" stroke-width="2.35" fill="none"/>
<path d="M510.05,171.35h5.8 M819.1,171.35h-5.8" stroke="#231f20" stroke-width="2.35" fill="none"/>
<path d="M519.0,146.5 L555.5,138.4 L569.0,134.0 L582.5,85.5 L619.0,52.5 L655.5,38.5 L719.0,132.5 L765.0,216.0 L801.0,282.0 L810.5,222.5" fill="none" stroke="#00a651" stroke-width="1.5" stroke-dasharray="4.2 2.4"/>
<circle cx="519" cy="146.5" r="5.4" fill="#00a651"/>
<circle cx="555.5" cy="138.4" r="5.4" fill="#00a651"/>
<circle cx="569" cy="134" r="5.4" fill="#00a651"/>
<circle cx="582.5" cy="85.5" r="5.4" fill="#00a651"/>
<circle cx="619" cy="52.5" r="5.4" fill="#00a651"/>
<circle cx="655.5" cy="38.5" r="5.4" fill="#00a651"/>
<circle cx="719" cy="132.5" r="5.4" fill="#00a651"/>
<circle cx="765" cy="216" r="5.4" fill="#00a651"/>
<circle cx="801" cy="282" r="5.4" fill="#00a651"/>
<circle cx="810.5" cy="222.5" r="5.4" fill="#00a651"/>
<g font-family="Liberation Sans, sans-serif" fill="#231f20" font-size="26.0">
<text x="96.5" y="330.25" text-anchor="end">0</text>
<text x="96.5" y="271.07" text-anchor="end">50</text>
<text x="96.5" y="210.29" text-anchor="end">100</text>
<text x="96.5" y="150.01" text-anchor="end">150</text>
<text x="96.5" y="90.03" text-anchor="end">200</text>
<text x="96.5" y="29.15" text-anchor="end">250</text>
<text x="144.06" y="349.7" text-anchor="middle">-10</text>
<text x="252.12" y="349.7" text-anchor="middle">0</text>
<text x="359.89" y="349.7" text-anchor="middle">10</text>
<text x="225.2" y="382.3" font-style="italic">B</text><text x="249.2" y="382.3">(T)</text>
<g transform="translate(29.4,0) rotate(-90)"><text x="-210.8" y="0" font-style="italic">R</text><text x="-192.8" y="7.8" font-style="italic" font-size="15.4">xx</text><text x="-169.3" y="0">(Ω)</text></g>
<text x="505" y="329.05" text-anchor="end">0.8</text>
<text x="505" y="180.35" text-anchor="end">1.2</text>
<text x="505" y="29.15" text-anchor="end">1.6</text>
<text x="535.80" y="349.7" text-anchor="middle">-2</text>
<text x="655.70" y="349.7" text-anchor="middle">0</text>
<text x="775.30" y="349.7" text-anchor="middle">2</text>
<text x="665" y="383" text-anchor="middle">Δn (10<tspan font-size="15.2" dy="-10.7">13</tspan><tspan dy="10.7"> cm</tspan><tspan font-size="15.2" dy="-10.7">-2</tspan><tspan dy="10.7">)</tspan></text>
<path d="M440.9,164.1 L453.4,173.3 C455,173.6 456.6,173.7 457.8,173.8 C459.2,173.9 460.4,174.3 461.2,175 C461.9,175.6 462.1,176.3 461.8,176.9 C461.4,177.6 460.6,178 459.6,178 C458.6,178 457.6,177.8 456.6,177.3 C455.6,176.8 454.6,176.1 453.7,175.5 L441.5,167.4 Z" fill="#231f20"/>
<path d="M452.2,173.9 C450.5,173.3 448.8,173.0 447.2,173.0 C445.6,173.0 444.2,173.2 443.2,173.6" fill="none" stroke="#231f20" stroke-width="1.25" stroke-linecap="round"/>
<path d="M443.2,173.6 C441.6,174.1 440.9,174.8 440.9,175.6 C440.9,176.6 441.6,177.4 442.6,178 C443.3,178.4 444.0,178.6 444.7,178.7" fill="none" stroke="#231f20" stroke-width="1.8" stroke-linecap="round"/>
</g>
<g font-family="Liberation Sans, sans-serif" fill="#231f20" font-size="17.4">
<text x="357.8" y="220.7" text-anchor="middle" font-size="16.2">Δn</text>
<path d="M324.2,234.1H354.5" stroke="#be1e2d" stroke-width="2.1" fill="none"/>
<text x="377" y="240.30" text-anchor="middle">2.6</text>
<path d="M324.2,253.4H354.5" stroke="#f7941d" stroke-width="2.1" fill="none"/>
<text x="377" y="259.60" text-anchor="middle">1.06</text>
<path d="M324.2,272.3H354.5" stroke="#00a651" stroke-width="2.1" fill="none"/>
<text x="377" y="278.50" text-anchor="middle">0</text>
<path d="M324.2,290.8H354.5" stroke="#27aae1" stroke-width="2.1" fill="none"/>
<text x="377" y="297.00" text-anchor="middle">-1.2</text>
<path d="M324.2,309.0H354.5" stroke="#2b3990" stroke-width="2.1" fill="none"/>
<text x="377" y="315.20" text-anchor="middle">-2.29</text>
</g>
<g font-family="Liberation Sans, sans-serif" font-size="16.6" fill="#231f20"><text x="526.3" y="293">R</text><text x="537.9" y="300" font-size="11.8">xx</text><text x="555.4" y="293">=</text><text x="571.1" y="293">R</text><text x="583.1" y="300" font-size="11.8">o</text><text x="594.0" y="293">+</text><text x="609" y="293" font-family="Liberation Serif, serif" font-size="17.2">α</text><text x="620.2" y="293" font-family="Liberation Serif, serif" font-size="17.2">B</text><text x="630.4" y="285" font-family="Liberation Serif, serif" font-size="14.5">γ</text></g>
</svg>
</body></html>
